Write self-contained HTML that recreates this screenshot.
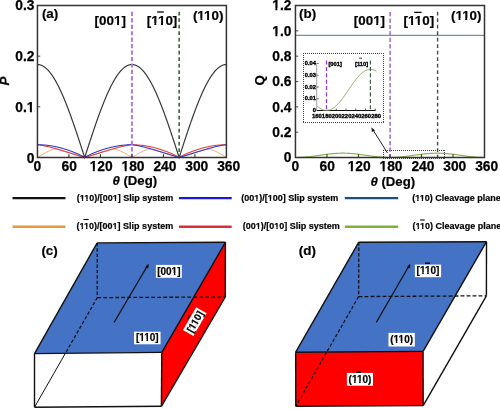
<!DOCTYPE html><html><head><meta charset="utf-8"><style>
html,body{margin:0;padding:0;background:#fff;width:500px;height:409px;overflow:hidden}
svg{display:block}
text{font-family:"Liberation Sans",sans-serif;font-weight:bold;fill:#000}
.tk{font-size:13.8px;stroke:#000;stroke-width:0.25px}
.pl{font-size:13.4px;stroke:#000;stroke-width:0.2px}
.ax{font-size:13.2px;stroke:#000;stroke-width:0.2px}
.lg{font-size:9px;stroke:#000;stroke-width:0.2px}
.bx{font-size:10px;stroke:#000;stroke-width:0.2px}
.it{font-size:5.8px;stroke:#000;stroke-width:0.35px}
</style></head><body><svg width="500" height="409" viewBox="0 0 500 409">
<rect width="500" height="409" fill="#fff"/>
<path d="M37.45,64.53 L37.71,64.53 L37.97,64.54 L38.24,64.56 L38.50,64.58 L38.76,64.62 L39.02,64.65 L39.29,64.70 L39.55,64.75 L39.81,64.81 L40.07,64.88 L40.34,64.95 L40.60,65.04 L40.86,65.12 L41.12,65.22 L41.39,65.32 L41.65,65.43 L41.91,65.55 L42.17,65.67 L42.44,65.80 L42.70,65.94 L42.96,66.08 L43.22,66.23 L43.49,66.39 L43.75,66.56 L44.01,66.73 L44.27,66.91 L44.54,67.10 L44.80,67.29 L45.06,67.49 L45.32,67.69 L45.59,67.91 L45.85,68.13 L46.11,68.36 L46.37,68.59 L46.64,68.83 L46.90,69.08 L47.16,69.33 L47.42,69.59 L47.68,69.86 L47.95,70.13 L48.21,70.41 L48.47,70.70 L48.73,71.00 L49.00,71.30 L49.26,71.60 L49.52,71.92 L49.78,72.24 L50.05,72.56 L50.31,72.90 L50.57,73.24 L50.83,73.58 L51.10,73.94 L51.36,74.29 L51.62,74.66 L51.88,75.03 L52.15,75.41 L52.41,75.79 L52.67,76.18 L52.93,76.58 L53.20,76.98 L53.46,77.39 L53.72,77.81 L53.98,78.23 L54.25,78.65 L54.51,79.09 L54.77,79.53 L55.03,79.97 L55.30,80.42 L55.56,80.88 L55.82,81.34 L56.08,81.81 L56.34,82.28 L56.61,82.76 L56.87,83.25 L57.13,83.74 L57.39,84.24 L57.66,84.74 L57.92,85.25 L58.18,85.76 L58.44,86.28 L58.71,86.80 L58.97,87.33 L59.23,87.87 L59.49,88.41 L59.76,88.95 L60.02,89.50 L60.28,90.06 L60.54,90.62 L60.81,91.19 L61.07,91.76 L61.33,92.33 L61.59,92.92 L61.86,93.50 L62.12,94.09 L62.38,94.69 L62.64,95.29 L62.91,95.89 L63.17,96.50 L63.43,97.12 L63.69,97.74 L63.96,98.36 L64.22,98.99 L64.48,99.62 L64.74,100.26 L65.01,100.90 L65.27,101.55 L65.53,102.20 L65.79,102.85 L66.05,103.51 L66.32,104.17 L66.58,104.84 L66.84,105.51 L67.10,106.18 L67.37,106.86 L67.63,107.55 L67.89,108.23 L68.15,108.92 L68.42,109.62 L68.68,110.31 L68.94,111.01 L69.20,111.72 L69.47,112.43 L69.73,113.14 L69.99,113.85 L70.25,114.57 L70.52,115.29 L70.78,116.02 L71.04,116.74 L71.30,117.47 L71.57,118.21 L71.83,118.94 L72.09,119.68 L72.35,120.43 L72.62,121.17 L72.88,121.92 L73.14,122.67 L73.40,123.43 L73.67,124.18 L73.93,124.94 L74.19,125.70 L74.45,126.46 L74.72,127.23 L74.98,128.00 L75.24,128.77 L75.50,129.54 L75.76,130.32 L76.03,131.09 L76.29,131.87 L76.55,132.65 L76.81,133.44 L77.08,134.22 L77.34,135.01 L77.60,135.80 L77.86,136.59 L78.13,137.38 L78.39,138.17 L78.65,138.96 L78.91,139.76 L79.18,140.56 L79.44,141.36 L79.70,142.15 L79.96,142.96 L80.23,143.76 L80.49,144.56 L80.75,145.36 L81.01,146.17 L81.28,146.98 L81.54,147.78 L81.80,148.59 L82.06,149.40 L82.33,150.21 L82.59,151.01 L82.85,151.82 L83.11,152.63 L83.38,153.44 L83.64,154.26 L83.90,155.07 L84.16,155.88 L84.43,156.69 L84.69,157.50 L84.95,156.69 L85.21,155.88 L85.47,155.07 L85.74,154.26 L86.00,153.44 L86.26,152.63 L86.52,151.82 L86.79,151.01 L87.05,150.21 L87.31,149.40 L87.57,148.59 L87.84,147.78 L88.10,146.98 L88.36,146.17 L88.62,145.36 L88.89,144.56 L89.15,143.76 L89.41,142.96 L89.67,142.15 L89.94,141.36 L90.20,140.56 L90.46,139.76 L90.72,138.96 L90.99,138.17 L91.25,137.38 L91.51,136.59 L91.77,135.80 L92.04,135.01 L92.30,134.22 L92.56,133.44 L92.82,132.65 L93.09,131.87 L93.35,131.09 L93.61,130.32 L93.87,129.54 L94.13,128.77 L94.40,128.00 L94.66,127.23 L94.92,126.46 L95.18,125.70 L95.45,124.94 L95.71,124.18 L95.97,123.43 L96.23,122.67 L96.50,121.92 L96.76,121.17 L97.02,120.43 L97.28,119.68 L97.55,118.94 L97.81,118.21 L98.07,117.47 L98.33,116.74 L98.60,116.02 L98.86,115.29 L99.12,114.57 L99.38,113.85 L99.65,113.14 L99.91,112.43 L100.17,111.72 L100.43,111.01 L100.70,110.31 L100.96,109.62 L101.22,108.92 L101.48,108.23 L101.75,107.55 L102.01,106.86 L102.27,106.18 L102.53,105.51 L102.80,104.84 L103.06,104.17 L103.32,103.51 L103.58,102.85 L103.84,102.20 L104.11,101.55 L104.37,100.90 L104.63,100.26 L104.89,99.62 L105.16,98.99 L105.42,98.36 L105.68,97.74 L105.94,97.12 L106.21,96.50 L106.47,95.89 L106.73,95.29 L106.99,94.69 L107.26,94.09 L107.52,93.50 L107.78,92.92 L108.04,92.33 L108.31,91.76 L108.57,91.19 L108.83,90.62 L109.09,90.06 L109.36,89.50 L109.62,88.95 L109.88,88.41 L110.14,87.87 L110.41,87.33 L110.67,86.80 L110.93,86.28 L111.19,85.76 L111.46,85.25 L111.72,84.74 L111.98,84.24 L112.24,83.74 L112.51,83.25 L112.77,82.76 L113.03,82.28 L113.29,81.81 L113.55,81.34 L113.82,80.88 L114.08,80.42 L114.34,79.97 L114.60,79.53 L114.87,79.09 L115.13,78.65 L115.39,78.23 L115.65,77.81 L115.92,77.39 L116.18,76.98 L116.44,76.58 L116.70,76.18 L116.97,75.79 L117.23,75.41 L117.49,75.03 L117.75,74.66 L118.02,74.29 L118.28,73.94 L118.54,73.58 L118.80,73.24 L119.07,72.90 L119.33,72.56 L119.59,72.24 L119.85,71.92 L120.12,71.60 L120.38,71.30 L120.64,71.00 L120.90,70.70 L121.17,70.41 L121.43,70.13 L121.69,69.86 L121.95,69.59 L122.22,69.33 L122.48,69.08 L122.74,68.83 L123.00,68.59 L123.26,68.36 L123.53,68.13 L123.79,67.91 L124.05,67.69 L124.31,67.49 L124.58,67.29 L124.84,67.10 L125.10,66.91 L125.36,66.73 L125.63,66.56 L125.89,66.39 L126.15,66.23 L126.41,66.08 L126.68,65.94 L126.94,65.80 L127.20,65.67 L127.46,65.55 L127.73,65.43 L127.99,65.32 L128.25,65.22 L128.51,65.12 L128.78,65.04 L129.04,64.95 L129.30,64.88 L129.56,64.81 L129.83,64.75 L130.09,64.70 L130.35,64.65 L130.61,64.62 L130.88,64.58 L131.14,64.56 L131.40,64.54 L131.66,64.53 L131.93,64.53 L132.19,64.53 L132.45,64.54 L132.71,64.56 L132.97,64.58 L133.24,64.62 L133.50,64.65 L133.76,64.70 L134.02,64.75 L134.29,64.81 L134.55,64.88 L134.81,64.95 L135.07,65.04 L135.34,65.12 L135.60,65.22 L135.86,65.32 L136.12,65.43 L136.39,65.55 L136.65,65.67 L136.91,65.80 L137.17,65.94 L137.44,66.08 L137.70,66.23 L137.96,66.39 L138.22,66.56 L138.49,66.73 L138.75,66.91 L139.01,67.10 L139.27,67.29 L139.54,67.49 L139.80,67.69 L140.06,67.91 L140.32,68.13 L140.59,68.36 L140.85,68.59 L141.11,68.83 L141.37,69.08 L141.63,69.33 L141.90,69.59 L142.16,69.86 L142.42,70.13 L142.68,70.41 L142.95,70.70 L143.21,71.00 L143.47,71.30 L143.73,71.60 L144.00,71.92 L144.26,72.24 L144.52,72.56 L144.78,72.90 L145.05,73.24 L145.31,73.58 L145.57,73.94 L145.83,74.29 L146.10,74.66 L146.36,75.03 L146.62,75.41 L146.88,75.79 L147.15,76.18 L147.41,76.58 L147.67,76.98 L147.93,77.39 L148.20,77.81 L148.46,78.23 L148.72,78.65 L148.98,79.09 L149.25,79.53 L149.51,79.97 L149.77,80.42 L150.03,80.88 L150.30,81.34 L150.56,81.81 L150.82,82.28 L151.08,82.76 L151.34,83.25 L151.61,83.74 L151.87,84.24 L152.13,84.74 L152.39,85.25 L152.66,85.76 L152.92,86.28 L153.18,86.80 L153.44,87.33 L153.71,87.87 L153.97,88.41 L154.23,88.95 L154.49,89.50 L154.76,90.06 L155.02,90.62 L155.28,91.19 L155.54,91.76 L155.81,92.33 L156.07,92.92 L156.33,93.50 L156.59,94.09 L156.86,94.69 L157.12,95.29 L157.38,95.89 L157.64,96.50 L157.91,97.12 L158.17,97.74 L158.43,98.36 L158.69,98.99 L158.96,99.62 L159.22,100.26 L159.48,100.90 L159.74,101.55 L160.01,102.20 L160.27,102.85 L160.53,103.51 L160.79,104.17 L161.05,104.84 L161.32,105.51 L161.58,106.18 L161.84,106.86 L162.10,107.55 L162.37,108.23 L162.63,108.92 L162.89,109.62 L163.15,110.31 L163.42,111.01 L163.68,111.72 L163.94,112.43 L164.20,113.14 L164.47,113.85 L164.73,114.57 L164.99,115.29 L165.25,116.02 L165.52,116.74 L165.78,117.47 L166.04,118.21 L166.30,118.94 L166.57,119.68 L166.83,120.43 L167.09,121.17 L167.35,121.92 L167.62,122.67 L167.88,123.43 L168.14,124.18 L168.40,124.94 L168.67,125.70 L168.93,126.46 L169.19,127.23 L169.45,128.00 L169.71,128.77 L169.98,129.54 L170.24,130.32 L170.50,131.09 L170.76,131.87 L171.03,132.65 L171.29,133.44 L171.55,134.22 L171.81,135.01 L172.08,135.80 L172.34,136.59 L172.60,137.38 L172.86,138.17 L173.13,138.96 L173.39,139.76 L173.65,140.56 L173.91,141.36 L174.18,142.15 L174.44,142.96 L174.70,143.76 L174.96,144.56 L175.23,145.36 L175.49,146.17 L175.75,146.98 L176.01,147.78 L176.28,148.59 L176.54,149.40 L176.80,150.21 L177.06,151.01 L177.33,151.82 L177.59,152.63 L177.85,153.44 L178.11,154.26 L178.38,155.07 L178.64,155.88 L178.90,156.69 L179.16,157.50 L179.42,156.69 L179.69,155.88 L179.95,155.07 L180.21,154.26 L180.47,153.44 L180.74,152.63 L181.00,151.82 L181.26,151.01 L181.52,150.21 L181.79,149.40 L182.05,148.59 L182.31,147.78 L182.57,146.98 L182.84,146.17 L183.10,145.36 L183.36,144.56 L183.62,143.76 L183.89,142.96 L184.15,142.15 L184.41,141.36 L184.67,140.56 L184.94,139.76 L185.20,138.96 L185.46,138.17 L185.72,137.38 L185.99,136.59 L186.25,135.80 L186.51,135.01 L186.77,134.22 L187.04,133.44 L187.30,132.65 L187.56,131.87 L187.82,131.09 L188.09,130.32 L188.35,129.54 L188.61,128.77 L188.87,128.00 L189.13,127.23 L189.40,126.46 L189.66,125.70 L189.92,124.94 L190.18,124.18 L190.45,123.43 L190.71,122.67 L190.97,121.92 L191.23,121.17 L191.50,120.43 L191.76,119.68 L192.02,118.94 L192.28,118.21 L192.55,117.47 L192.81,116.74 L193.07,116.02 L193.33,115.29 L193.60,114.57 L193.86,113.85 L194.12,113.14 L194.38,112.43 L194.65,111.72 L194.91,111.01 L195.17,110.31 L195.43,109.62 L195.70,108.92 L195.96,108.23 L196.22,107.55 L196.48,106.86 L196.75,106.18 L197.01,105.51 L197.27,104.84 L197.53,104.17 L197.80,103.51 L198.06,102.85 L198.32,102.20 L198.58,101.55 L198.84,100.90 L199.11,100.26 L199.37,99.62 L199.63,98.99 L199.89,98.36 L200.16,97.74 L200.42,97.12 L200.68,96.50 L200.94,95.89 L201.21,95.29 L201.47,94.69 L201.73,94.09 L201.99,93.50 L202.26,92.92 L202.52,92.33 L202.78,91.76 L203.04,91.19 L203.31,90.62 L203.57,90.06 L203.83,89.50 L204.09,88.95 L204.36,88.41 L204.62,87.87 L204.88,87.33 L205.14,86.80 L205.41,86.28 L205.67,85.76 L205.93,85.25 L206.19,84.74 L206.46,84.24 L206.72,83.74 L206.98,83.25 L207.24,82.76 L207.50,82.28 L207.77,81.81 L208.03,81.34 L208.29,80.88 L208.55,80.42 L208.82,79.97 L209.08,79.53 L209.34,79.09 L209.60,78.65 L209.87,78.23 L210.13,77.81 L210.39,77.39 L210.65,76.98 L210.92,76.58 L211.18,76.18 L211.44,75.79 L211.70,75.41 L211.97,75.03 L212.23,74.66 L212.49,74.29 L212.75,73.94 L213.02,73.58 L213.28,73.24 L213.54,72.90 L213.80,72.56 L214.07,72.24 L214.33,71.92 L214.59,71.60 L214.85,71.30 L215.12,71.00 L215.38,70.70 L215.64,70.41 L215.90,70.13 L216.17,69.86 L216.43,69.59 L216.69,69.33 L216.95,69.08 L217.21,68.83 L217.48,68.59 L217.74,68.36 L218.00,68.13 L218.26,67.91 L218.53,67.69 L218.79,67.49 L219.05,67.29 L219.31,67.10 L219.58,66.91 L219.84,66.73 L220.10,66.56 L220.36,66.39 L220.63,66.23 L220.89,66.08 L221.15,65.94 L221.41,65.80 L221.68,65.67 L221.94,65.55 L222.20,65.43 L222.46,65.32 L222.73,65.22 L222.99,65.12 L223.25,65.04 L223.51,64.95 L223.78,64.88 L224.04,64.81 L224.30,64.75 L224.56,64.70 L224.83,64.65 L225.09,64.62 L225.35,64.58 L225.61,64.56 L225.88,64.54 L226.14,64.53 L226.40,64.53" fill="none" stroke="#383838" stroke-width="1.2"/>
<path d="M37.45,157.50 L37.71,157.34 L37.97,157.17 L38.24,157.01 L38.50,156.85 L38.76,156.68 L39.02,156.52 L39.29,156.36 L39.55,156.20 L39.81,156.03 L40.07,155.87 L40.34,155.71 L40.60,155.55 L40.86,155.39 L41.12,155.23 L41.39,155.07 L41.65,154.92 L41.91,154.76 L42.17,154.60 L42.44,154.45 L42.70,154.29 L42.96,154.14 L43.22,153.99 L43.49,153.84 L43.75,153.69 L44.01,153.54 L44.27,153.39 L44.54,153.24 L44.80,153.10 L45.06,152.96 L45.32,152.81 L45.59,152.67 L45.85,152.53 L46.11,152.39 L46.37,152.26 L46.64,152.12 L46.90,151.99 L47.16,151.86 L47.42,151.73 L47.68,151.60 L47.95,151.47 L48.21,151.35 L48.47,151.23 L48.73,151.11 L49.00,150.99 L49.26,150.87 L49.52,150.76 L49.78,150.64 L50.05,150.53 L50.31,150.43 L50.57,150.32 L50.83,150.22 L51.10,150.11 L51.36,150.01 L51.62,149.92 L51.88,149.82 L52.15,149.73 L52.41,149.64 L52.67,149.55 L52.93,149.47 L53.20,149.38 L53.46,149.30 L53.72,149.22 L53.98,149.15 L54.25,149.08 L54.51,149.00 L54.77,148.94 L55.03,148.87 L55.30,148.81 L55.56,148.75 L55.82,148.72 L56.08,148.80 L56.34,148.87 L56.61,148.95 L56.87,149.02 L57.13,149.10 L57.39,149.17 L57.66,149.25 L57.92,149.33 L58.18,149.40 L58.44,149.48 L58.71,149.56 L58.97,149.63 L59.23,149.71 L59.49,149.79 L59.76,149.87 L60.02,149.95 L60.28,150.02 L60.54,150.10 L60.81,150.18 L61.07,150.26 L61.33,150.34 L61.59,150.42 L61.86,150.50 L62.12,150.58 L62.38,150.65 L62.64,150.73 L62.91,150.81 L63.17,150.89 L63.43,150.97 L63.69,151.05 L63.96,151.13 L64.22,151.21 L64.48,151.29 L64.74,151.37 L65.01,151.45 L65.27,151.53 L65.53,151.61 L65.79,151.70 L66.05,151.78 L66.32,151.86 L66.58,151.94 L66.84,152.02 L67.10,152.10 L67.37,152.18 L67.63,152.26 L67.89,152.34 L68.15,152.42 L68.42,152.50 L68.68,152.58 L68.94,152.66 L69.20,152.74 L69.47,152.83 L69.73,152.91 L69.99,152.99 L70.25,153.07 L70.52,153.15 L70.78,153.23 L71.04,153.31 L71.30,153.39 L71.57,153.47 L71.83,153.55 L72.09,153.64 L72.35,153.72 L72.62,153.80 L72.88,153.88 L73.14,153.96 L73.40,154.04 L73.67,154.12 L73.93,154.20 L74.19,154.28 L74.45,154.36 L74.72,154.44 L74.98,154.52 L75.24,154.61 L75.50,154.69 L75.76,154.77 L76.03,154.85 L76.29,154.93 L76.55,155.01 L76.81,155.09 L77.08,155.17 L77.34,155.25 L77.60,155.33 L77.86,155.41 L78.13,155.49 L78.39,155.57 L78.65,155.65 L78.91,155.73 L79.18,155.81 L79.44,155.89 L79.70,155.97 L79.96,156.06 L80.23,156.14 L80.49,156.22 L80.75,156.30 L81.01,156.38 L81.28,156.46 L81.54,156.54 L81.80,156.62 L82.06,156.70 L82.33,156.78 L82.59,156.86 L82.85,156.94 L83.11,157.02 L83.38,157.10 L83.64,157.18 L83.90,157.26 L84.16,157.34 L84.43,157.42 L84.69,157.50 L84.95,157.42 L85.21,157.34 L85.47,157.26 L85.74,157.18 L86.00,157.10 L86.26,157.02 L86.52,156.94 L86.79,156.86 L87.05,156.78 L87.31,156.70 L87.57,156.62 L87.84,156.54 L88.10,156.46 L88.36,156.38 L88.62,156.30 L88.89,156.22 L89.15,156.14 L89.41,156.06 L89.67,155.97 L89.94,155.89 L90.20,155.81 L90.46,155.73 L90.72,155.65 L90.99,155.57 L91.25,155.49 L91.51,155.41 L91.77,155.33 L92.04,155.25 L92.30,155.17 L92.56,155.09 L92.82,155.01 L93.09,154.93 L93.35,154.85 L93.61,154.77 L93.87,154.69 L94.13,154.61 L94.40,154.52 L94.66,154.44 L94.92,154.36 L95.18,154.28 L95.45,154.20 L95.71,154.12 L95.97,154.04 L96.23,153.96 L96.50,153.88 L96.76,153.80 L97.02,153.72 L97.28,153.64 L97.55,153.55 L97.81,153.47 L98.07,153.39 L98.33,153.31 L98.60,153.23 L98.86,153.15 L99.12,153.07 L99.38,152.99 L99.65,152.91 L99.91,152.83 L100.17,152.74 L100.43,152.66 L100.70,152.58 L100.96,152.50 L101.22,152.42 L101.48,152.34 L101.75,152.26 L102.01,152.18 L102.27,152.10 L102.53,152.02 L102.80,151.94 L103.06,151.86 L103.32,151.78 L103.58,151.70 L103.84,151.61 L104.11,151.53 L104.37,151.45 L104.63,151.37 L104.89,151.29 L105.16,151.21 L105.42,151.13 L105.68,151.05 L105.94,150.97 L106.21,150.89 L106.47,150.81 L106.73,150.73 L106.99,150.65 L107.26,150.58 L107.52,150.50 L107.78,150.42 L108.04,150.34 L108.31,150.26 L108.57,150.18 L108.83,150.10 L109.09,150.02 L109.36,149.95 L109.62,149.87 L109.88,149.79 L110.14,149.71 L110.41,149.63 L110.67,149.56 L110.93,149.48 L111.19,149.40 L111.46,149.33 L111.72,149.25 L111.98,149.17 L112.24,149.10 L112.51,149.02 L112.77,148.95 L113.03,148.87 L113.29,148.80 L113.55,148.72 L113.82,148.75 L114.08,148.81 L114.34,148.87 L114.60,148.94 L114.87,149.00 L115.13,149.08 L115.39,149.15 L115.65,149.22 L115.92,149.30 L116.18,149.38 L116.44,149.47 L116.70,149.55 L116.97,149.64 L117.23,149.73 L117.49,149.82 L117.75,149.92 L118.02,150.01 L118.28,150.11 L118.54,150.22 L118.80,150.32 L119.07,150.43 L119.33,150.53 L119.59,150.64 L119.85,150.76 L120.12,150.87 L120.38,150.99 L120.64,151.11 L120.90,151.23 L121.17,151.35 L121.43,151.47 L121.69,151.60 L121.95,151.73 L122.22,151.86 L122.48,151.99 L122.74,152.12 L123.00,152.26 L123.26,152.39 L123.53,152.53 L123.79,152.67 L124.05,152.81 L124.31,152.96 L124.58,153.10 L124.84,153.24 L125.10,153.39 L125.36,153.54 L125.63,153.69 L125.89,153.84 L126.15,153.99 L126.41,154.14 L126.68,154.29 L126.94,154.45 L127.20,154.60 L127.46,154.76 L127.73,154.92 L127.99,155.07 L128.25,155.23 L128.51,155.39 L128.78,155.55 L129.04,155.71 L129.30,155.87 L129.56,156.03 L129.83,156.20 L130.09,156.36 L130.35,156.52 L130.61,156.68 L130.88,156.85 L131.14,157.01 L131.40,157.17 L131.66,157.34 L131.93,157.50 L132.19,157.34 L132.45,157.17 L132.71,157.01 L132.97,156.85 L133.24,156.68 L133.50,156.52 L133.76,156.36 L134.02,156.20 L134.29,156.03 L134.55,155.87 L134.81,155.71 L135.07,155.55 L135.34,155.39 L135.60,155.23 L135.86,155.07 L136.12,154.92 L136.39,154.76 L136.65,154.60 L136.91,154.45 L137.17,154.29 L137.44,154.14 L137.70,153.99 L137.96,153.84 L138.22,153.69 L138.49,153.54 L138.75,153.39 L139.01,153.24 L139.27,153.10 L139.54,152.96 L139.80,152.81 L140.06,152.67 L140.32,152.53 L140.59,152.39 L140.85,152.26 L141.11,152.12 L141.37,151.99 L141.63,151.86 L141.90,151.73 L142.16,151.60 L142.42,151.47 L142.68,151.35 L142.95,151.23 L143.21,151.11 L143.47,150.99 L143.73,150.87 L144.00,150.76 L144.26,150.64 L144.52,150.53 L144.78,150.43 L145.05,150.32 L145.31,150.22 L145.57,150.11 L145.83,150.01 L146.10,149.92 L146.36,149.82 L146.62,149.73 L146.88,149.64 L147.15,149.55 L147.41,149.47 L147.67,149.38 L147.93,149.30 L148.20,149.22 L148.46,149.15 L148.72,149.08 L148.98,149.00 L149.25,148.94 L149.51,148.87 L149.77,148.81 L150.03,148.75 L150.30,148.72 L150.56,148.80 L150.82,148.87 L151.08,148.95 L151.34,149.02 L151.61,149.10 L151.87,149.17 L152.13,149.25 L152.39,149.33 L152.66,149.40 L152.92,149.48 L153.18,149.56 L153.44,149.63 L153.71,149.71 L153.97,149.79 L154.23,149.87 L154.49,149.95 L154.76,150.02 L155.02,150.10 L155.28,150.18 L155.54,150.26 L155.81,150.34 L156.07,150.42 L156.33,150.50 L156.59,150.58 L156.86,150.65 L157.12,150.73 L157.38,150.81 L157.64,150.89 L157.91,150.97 L158.17,151.05 L158.43,151.13 L158.69,151.21 L158.96,151.29 L159.22,151.37 L159.48,151.45 L159.74,151.53 L160.01,151.61 L160.27,151.70 L160.53,151.78 L160.79,151.86 L161.05,151.94 L161.32,152.02 L161.58,152.10 L161.84,152.18 L162.10,152.26 L162.37,152.34 L162.63,152.42 L162.89,152.50 L163.15,152.58 L163.42,152.66 L163.68,152.74 L163.94,152.83 L164.20,152.91 L164.47,152.99 L164.73,153.07 L164.99,153.15 L165.25,153.23 L165.52,153.31 L165.78,153.39 L166.04,153.47 L166.30,153.55 L166.57,153.64 L166.83,153.72 L167.09,153.80 L167.35,153.88 L167.62,153.96 L167.88,154.04 L168.14,154.12 L168.40,154.20 L168.67,154.28 L168.93,154.36 L169.19,154.44 L169.45,154.52 L169.71,154.61 L169.98,154.69 L170.24,154.77 L170.50,154.85 L170.76,154.93 L171.03,155.01 L171.29,155.09 L171.55,155.17 L171.81,155.25 L172.08,155.33 L172.34,155.41 L172.60,155.49 L172.86,155.57 L173.13,155.65 L173.39,155.73 L173.65,155.81 L173.91,155.89 L174.18,155.97 L174.44,156.06 L174.70,156.14 L174.96,156.22 L175.23,156.30 L175.49,156.38 L175.75,156.46 L176.01,156.54 L176.28,156.62 L176.54,156.70 L176.80,156.78 L177.06,156.86 L177.33,156.94 L177.59,157.02 L177.85,157.10 L178.11,157.18 L178.38,157.26 L178.64,157.34 L178.90,157.42 L179.16,157.50 L179.42,157.42 L179.69,157.34 L179.95,157.26 L180.21,157.18 L180.47,157.10 L180.74,157.02 L181.00,156.94 L181.26,156.86 L181.52,156.78 L181.79,156.70 L182.05,156.62 L182.31,156.54 L182.57,156.46 L182.84,156.38 L183.10,156.30 L183.36,156.22 L183.62,156.14 L183.89,156.06 L184.15,155.97 L184.41,155.89 L184.67,155.81 L184.94,155.73 L185.20,155.65 L185.46,155.57 L185.72,155.49 L185.99,155.41 L186.25,155.33 L186.51,155.25 L186.77,155.17 L187.04,155.09 L187.30,155.01 L187.56,154.93 L187.82,154.85 L188.09,154.77 L188.35,154.69 L188.61,154.61 L188.87,154.52 L189.13,154.44 L189.40,154.36 L189.66,154.28 L189.92,154.20 L190.18,154.12 L190.45,154.04 L190.71,153.96 L190.97,153.88 L191.23,153.80 L191.50,153.72 L191.76,153.64 L192.02,153.55 L192.28,153.47 L192.55,153.39 L192.81,153.31 L193.07,153.23 L193.33,153.15 L193.60,153.07 L193.86,152.99 L194.12,152.91 L194.38,152.83 L194.65,152.74 L194.91,152.66 L195.17,152.58 L195.43,152.50 L195.70,152.42 L195.96,152.34 L196.22,152.26 L196.48,152.18 L196.75,152.10 L197.01,152.02 L197.27,151.94 L197.53,151.86 L197.80,151.78 L198.06,151.70 L198.32,151.61 L198.58,151.53 L198.84,151.45 L199.11,151.37 L199.37,151.29 L199.63,151.21 L199.89,151.13 L200.16,151.05 L200.42,150.97 L200.68,150.89 L200.94,150.81 L201.21,150.73 L201.47,150.65 L201.73,150.58 L201.99,150.50 L202.26,150.42 L202.52,150.34 L202.78,150.26 L203.04,150.18 L203.31,150.10 L203.57,150.02 L203.83,149.95 L204.09,149.87 L204.36,149.79 L204.62,149.71 L204.88,149.63 L205.14,149.56 L205.41,149.48 L205.67,149.40 L205.93,149.33 L206.19,149.25 L206.46,149.17 L206.72,149.10 L206.98,149.02 L207.24,148.95 L207.50,148.87 L207.77,148.80 L208.03,148.72 L208.29,148.75 L208.55,148.81 L208.82,148.87 L209.08,148.94 L209.34,149.00 L209.60,149.08 L209.87,149.15 L210.13,149.22 L210.39,149.30 L210.65,149.38 L210.92,149.47 L211.18,149.55 L211.44,149.64 L211.70,149.73 L211.97,149.82 L212.23,149.92 L212.49,150.01 L212.75,150.11 L213.02,150.22 L213.28,150.32 L213.54,150.43 L213.80,150.53 L214.07,150.64 L214.33,150.76 L214.59,150.87 L214.85,150.99 L215.12,151.11 L215.38,151.23 L215.64,151.35 L215.90,151.47 L216.17,151.60 L216.43,151.73 L216.69,151.86 L216.95,151.99 L217.21,152.12 L217.48,152.26 L217.74,152.39 L218.00,152.53 L218.26,152.67 L218.53,152.81 L218.79,152.96 L219.05,153.10 L219.31,153.24 L219.58,153.39 L219.84,153.54 L220.10,153.69 L220.36,153.84 L220.63,153.99 L220.89,154.14 L221.15,154.29 L221.41,154.45 L221.68,154.60 L221.94,154.76 L222.20,154.92 L222.46,155.07 L222.73,155.23 L222.99,155.39 L223.25,155.55 L223.51,155.71 L223.78,155.87 L224.04,156.03 L224.30,156.20 L224.56,156.36 L224.83,156.52 L225.09,156.68 L225.35,156.85 L225.61,157.01 L225.88,157.17 L226.14,157.34 L226.40,157.50" fill="none" stroke="#e8a060" stroke-width="1"/>
<path d="M37.45,144.73 L37.71,144.76 L37.97,144.80 L38.24,144.83 L38.50,144.86 L38.76,144.90 L39.02,144.94 L39.29,144.97 L39.55,145.01 L39.81,145.05 L40.07,145.09 L40.34,145.13 L40.60,145.17 L40.86,145.22 L41.12,145.26 L41.39,145.30 L41.65,145.35 L41.91,145.39 L42.17,145.44 L42.44,145.49 L42.70,145.54 L42.96,145.59 L43.22,145.64 L43.49,145.69 L43.75,145.74 L44.01,145.79 L44.27,145.84 L44.54,145.90 L44.80,145.95 L45.06,146.01 L45.32,146.06 L45.59,146.12 L45.85,146.17 L46.11,146.23 L46.37,146.29 L46.64,146.35 L46.90,146.41 L47.16,146.47 L47.42,146.53 L47.68,146.59 L47.95,146.65 L48.21,146.71 L48.47,146.78 L48.73,146.84 L49.00,146.90 L49.26,146.97 L49.52,147.03 L49.78,147.10 L50.05,147.16 L50.31,147.23 L50.57,147.30 L50.83,147.36 L51.10,147.43 L51.36,147.50 L51.62,147.57 L51.88,147.64 L52.15,147.71 L52.41,147.78 L52.67,147.85 L52.93,147.92 L53.20,147.99 L53.46,148.06 L53.72,148.13 L53.98,148.21 L54.25,148.28 L54.51,148.35 L54.77,148.42 L55.03,148.50 L55.30,148.57 L55.56,148.65 L55.82,148.72 L56.08,148.80 L56.34,148.87 L56.61,148.95 L56.87,149.02 L57.13,149.10 L57.39,149.17 L57.66,149.25 L57.92,149.33 L58.18,149.40 L58.44,149.48 L58.71,149.56 L58.97,149.63 L59.23,149.71 L59.49,149.79 L59.76,149.87 L60.02,149.95 L60.28,150.02 L60.54,150.10 L60.81,150.18 L61.07,150.26 L61.33,150.34 L61.59,150.42 L61.86,150.50 L62.12,150.58 L62.38,150.65 L62.64,150.73 L62.91,150.81 L63.17,150.89 L63.43,150.97 L63.69,151.05 L63.96,151.13 L64.22,151.21 L64.48,151.29 L64.74,151.37 L65.01,151.45 L65.27,151.53 L65.53,151.61 L65.79,151.70 L66.05,151.78 L66.32,151.86 L66.58,151.94 L66.84,152.02 L67.10,152.10 L67.37,152.18 L67.63,152.26 L67.89,152.34 L68.15,152.42 L68.42,152.50 L68.68,152.58 L68.94,152.66 L69.20,152.74 L69.47,152.83 L69.73,152.91 L69.99,152.99 L70.25,153.07 L70.52,153.15 L70.78,153.23 L71.04,153.31 L71.30,153.39 L71.57,153.47 L71.83,153.55 L72.09,153.64 L72.35,153.72 L72.62,153.80 L72.88,153.88 L73.14,153.96 L73.40,154.04 L73.67,154.12 L73.93,154.20 L74.19,154.28 L74.45,154.36 L74.72,154.44 L74.98,154.52 L75.24,154.61 L75.50,154.69 L75.76,154.77 L76.03,154.85 L76.29,154.93 L76.55,155.01 L76.81,155.09 L77.08,155.17 L77.34,155.25 L77.60,155.33 L77.86,155.41 L78.13,155.49 L78.39,155.57 L78.65,155.65 L78.91,155.73 L79.18,155.81 L79.44,155.89 L79.70,155.97 L79.96,156.06 L80.23,156.14 L80.49,156.22 L80.75,156.30 L81.01,156.38 L81.28,156.46 L81.54,156.54 L81.80,156.62 L82.06,156.70 L82.33,156.78 L82.59,156.86 L82.85,156.94 L83.11,157.02 L83.38,157.10 L83.64,157.18 L83.90,157.26 L84.16,157.34 L84.43,157.42 L84.69,157.50 L84.95,157.42 L85.21,157.34 L85.47,157.26 L85.74,157.18 L86.00,157.10 L86.26,157.02 L86.52,156.94 L86.79,156.86 L87.05,156.78 L87.31,156.70 L87.57,156.62 L87.84,156.54 L88.10,156.46 L88.36,156.38 L88.62,156.30 L88.89,156.22 L89.15,156.14 L89.41,156.06 L89.67,155.97 L89.94,155.89 L90.20,155.81 L90.46,155.73 L90.72,155.65 L90.99,155.57 L91.25,155.49 L91.51,155.41 L91.77,155.33 L92.04,155.25 L92.30,155.17 L92.56,155.09 L92.82,155.01 L93.09,154.93 L93.35,154.85 L93.61,154.77 L93.87,154.69 L94.13,154.61 L94.40,154.52 L94.66,154.44 L94.92,154.36 L95.18,154.28 L95.45,154.20 L95.71,154.12 L95.97,154.04 L96.23,153.96 L96.50,153.88 L96.76,153.80 L97.02,153.72 L97.28,153.64 L97.55,153.55 L97.81,153.47 L98.07,153.39 L98.33,153.31 L98.60,153.23 L98.86,153.15 L99.12,153.07 L99.38,152.99 L99.65,152.91 L99.91,152.83 L100.17,152.74 L100.43,152.66 L100.70,152.58 L100.96,152.50 L101.22,152.42 L101.48,152.34 L101.75,152.26 L102.01,152.18 L102.27,152.10 L102.53,152.02 L102.80,151.94 L103.06,151.86 L103.32,151.78 L103.58,151.70 L103.84,151.61 L104.11,151.53 L104.37,151.45 L104.63,151.37 L104.89,151.29 L105.16,151.21 L105.42,151.13 L105.68,151.05 L105.94,150.97 L106.21,150.89 L106.47,150.81 L106.73,150.73 L106.99,150.65 L107.26,150.58 L107.52,150.50 L107.78,150.42 L108.04,150.34 L108.31,150.26 L108.57,150.18 L108.83,150.10 L109.09,150.02 L109.36,149.95 L109.62,149.87 L109.88,149.79 L110.14,149.71 L110.41,149.63 L110.67,149.56 L110.93,149.48 L111.19,149.40 L111.46,149.33 L111.72,149.25 L111.98,149.17 L112.24,149.10 L112.51,149.02 L112.77,148.95 L113.03,148.87 L113.29,148.80 L113.55,148.72 L113.82,148.65 L114.08,148.57 L114.34,148.50 L114.60,148.42 L114.87,148.35 L115.13,148.28 L115.39,148.21 L115.65,148.13 L115.92,148.06 L116.18,147.99 L116.44,147.92 L116.70,147.85 L116.97,147.78 L117.23,147.71 L117.49,147.64 L117.75,147.57 L118.02,147.50 L118.28,147.43 L118.54,147.36 L118.80,147.30 L119.07,147.23 L119.33,147.16 L119.59,147.10 L119.85,147.03 L120.12,146.97 L120.38,146.90 L120.64,146.84 L120.90,146.78 L121.17,146.71 L121.43,146.65 L121.69,146.59 L121.95,146.53 L122.22,146.47 L122.48,146.41 L122.74,146.35 L123.00,146.29 L123.26,146.23 L123.53,146.17 L123.79,146.12 L124.05,146.06 L124.31,146.01 L124.58,145.95 L124.84,145.90 L125.10,145.84 L125.36,145.79 L125.63,145.74 L125.89,145.69 L126.15,145.64 L126.41,145.59 L126.68,145.54 L126.94,145.49 L127.20,145.44 L127.46,145.39 L127.73,145.35 L127.99,145.30 L128.25,145.26 L128.51,145.22 L128.78,145.17 L129.04,145.13 L129.30,145.09 L129.56,145.05 L129.83,145.01 L130.09,144.97 L130.35,144.94 L130.61,144.90 L130.88,144.86 L131.14,144.83 L131.40,144.80 L131.66,144.76 L131.93,144.73 L132.19,144.73 L132.45,144.73 L132.71,144.74 L132.97,144.74 L133.24,144.74 L133.50,144.75 L133.76,144.75 L134.02,144.76 L134.29,144.77 L134.55,144.77 L134.81,144.78 L135.07,144.79 L135.34,144.80 L135.60,144.81 L135.86,144.82 L136.12,144.84 L136.39,144.85 L136.65,144.87 L136.91,144.88 L137.17,144.90 L137.44,144.91 L137.70,144.93 L137.96,144.95 L138.22,144.97 L138.49,144.99 L138.75,145.01 L139.01,145.03 L139.27,145.06 L139.54,145.08 L139.80,145.10 L140.06,145.13 L140.32,145.15 L140.59,145.18 L140.85,145.21 L141.11,145.24 L141.37,145.27 L141.63,145.30 L141.90,145.33 L142.16,145.36 L142.42,145.39 L142.68,145.42 L142.95,145.46 L143.21,145.49 L143.47,145.53 L143.73,145.56 L144.00,145.60 L144.26,145.64 L144.52,145.68 L144.78,145.72 L145.05,145.76 L145.31,145.80 L145.57,145.84 L145.83,145.88 L146.10,145.92 L146.36,145.97 L146.62,146.01 L146.88,146.06 L147.15,146.11 L147.41,146.15 L147.67,146.20 L147.93,146.25 L148.20,146.30 L148.46,146.35 L148.72,146.40 L148.98,146.45 L149.25,146.51 L149.51,146.56 L149.77,146.61 L150.03,146.67 L150.30,146.72 L150.56,146.78 L150.82,146.84 L151.08,146.89 L151.34,146.95 L151.61,147.01 L151.87,147.07 L152.13,147.13 L152.39,147.19 L152.66,147.26 L152.92,147.32 L153.18,147.38 L153.44,147.45 L153.71,147.51 L153.97,147.58 L154.23,147.65 L154.49,147.71 L154.76,147.78 L155.02,147.85 L155.28,147.92 L155.54,147.99 L155.81,148.06 L156.07,148.13 L156.33,148.20 L156.59,148.28 L156.86,148.35 L157.12,148.43 L157.38,148.50 L157.64,148.58 L157.91,148.65 L158.17,148.73 L158.43,148.81 L158.69,148.89 L158.96,148.97 L159.22,149.05 L159.48,149.13 L159.74,149.21 L160.01,149.29 L160.27,149.37 L160.53,149.46 L160.79,149.54 L161.05,149.62 L161.32,149.71 L161.58,149.80 L161.84,149.88 L162.10,149.97 L162.37,150.06 L162.63,150.15 L162.89,150.24 L163.15,150.33 L163.42,150.42 L163.68,150.51 L163.94,150.60 L164.20,150.69 L164.47,150.79 L164.73,150.88 L164.99,150.97 L165.25,151.07 L165.52,151.17 L165.78,151.26 L166.04,151.36 L166.30,151.46 L166.57,151.56 L166.83,151.66 L167.09,151.76 L167.35,151.86 L167.62,151.96 L167.88,152.06 L168.14,152.16 L168.40,152.27 L168.67,152.37 L168.93,152.48 L169.19,152.58 L169.45,152.69 L169.71,152.79 L169.98,152.90 L170.24,153.01 L170.50,153.12 L170.76,153.23 L171.03,153.34 L171.29,153.45 L171.55,153.57 L171.81,153.68 L172.08,153.79 L172.34,153.91 L172.60,154.02 L172.86,154.14 L173.13,154.26 L173.39,154.38 L173.65,154.50 L173.91,154.62 L174.18,154.74 L174.44,154.86 L174.70,154.99 L174.96,155.11 L175.23,155.24 L175.49,155.37 L175.75,155.50 L176.01,155.63 L176.28,155.76 L176.54,155.90 L176.80,156.03 L177.06,156.17 L177.33,156.31 L177.59,156.46 L177.85,156.61 L178.11,156.76 L178.38,156.92 L178.64,157.09 L178.90,157.27 L179.16,157.50 L179.42,157.27 L179.69,157.09 L179.95,156.92 L180.21,156.76 L180.47,156.61 L180.74,156.46 L181.00,156.31 L181.26,156.17 L181.52,156.03 L181.79,155.90 L182.05,155.76 L182.31,155.63 L182.57,155.50 L182.84,155.37 L183.10,155.24 L183.36,155.11 L183.62,154.99 L183.89,154.86 L184.15,154.74 L184.41,154.62 L184.67,154.50 L184.94,154.38 L185.20,154.26 L185.46,154.14 L185.72,154.02 L185.99,153.91 L186.25,153.79 L186.51,153.68 L186.77,153.57 L187.04,153.45 L187.30,153.34 L187.56,153.23 L187.82,153.12 L188.09,153.01 L188.35,152.90 L188.61,152.79 L188.87,152.69 L189.13,152.58 L189.40,152.48 L189.66,152.37 L189.92,152.27 L190.18,152.16 L190.45,152.06 L190.71,151.96 L190.97,151.86 L191.23,151.76 L191.50,151.66 L191.76,151.56 L192.02,151.46 L192.28,151.36 L192.55,151.26 L192.81,151.17 L193.07,151.07 L193.33,150.97 L193.60,150.88 L193.86,150.79 L194.12,150.69 L194.38,150.60 L194.65,150.51 L194.91,150.42 L195.17,150.33 L195.43,150.24 L195.70,150.15 L195.96,150.06 L196.22,149.97 L196.48,149.88 L196.75,149.80 L197.01,149.71 L197.27,149.62 L197.53,149.54 L197.80,149.46 L198.06,149.37 L198.32,149.29 L198.58,149.21 L198.84,149.13 L199.11,149.05 L199.37,148.97 L199.63,148.89 L199.89,148.81 L200.16,148.73 L200.42,148.65 L200.68,148.58 L200.94,148.50 L201.21,148.43 L201.47,148.35 L201.73,148.28 L201.99,148.20 L202.26,148.13 L202.52,148.06 L202.78,147.99 L203.04,147.92 L203.31,147.85 L203.57,147.78 L203.83,147.71 L204.09,147.65 L204.36,147.58 L204.62,147.51 L204.88,147.45 L205.14,147.38 L205.41,147.32 L205.67,147.26 L205.93,147.19 L206.19,147.13 L206.46,147.07 L206.72,147.01 L206.98,146.95 L207.24,146.89 L207.50,146.84 L207.77,146.78 L208.03,146.72 L208.29,146.67 L208.55,146.61 L208.82,146.56 L209.08,146.51 L209.34,146.45 L209.60,146.40 L209.87,146.35 L210.13,146.30 L210.39,146.25 L210.65,146.20 L210.92,146.15 L211.18,146.11 L211.44,146.06 L211.70,146.01 L211.97,145.97 L212.23,145.92 L212.49,145.88 L212.75,145.84 L213.02,145.80 L213.28,145.76 L213.54,145.72 L213.80,145.68 L214.07,145.64 L214.33,145.60 L214.59,145.56 L214.85,145.53 L215.12,145.49 L215.38,145.46 L215.64,145.42 L215.90,145.39 L216.17,145.36 L216.43,145.33 L216.69,145.30 L216.95,145.27 L217.21,145.24 L217.48,145.21 L217.74,145.18 L218.00,145.15 L218.26,145.13 L218.53,145.10 L218.79,145.08 L219.05,145.06 L219.31,145.03 L219.58,145.01 L219.84,144.99 L220.10,144.97 L220.36,144.95 L220.63,144.93 L220.89,144.91 L221.15,144.90 L221.41,144.88 L221.68,144.87 L221.94,144.85 L222.20,144.84 L222.46,144.82 L222.73,144.81 L222.99,144.80 L223.25,144.79 L223.51,144.78 L223.78,144.77 L224.04,144.77 L224.30,144.76 L224.56,144.75 L224.83,144.75 L225.09,144.74 L225.35,144.74 L225.61,144.74 L225.88,144.73 L226.14,144.73 L226.40,144.73" fill="none" stroke="#e03c3c" stroke-width="1.05"/>
<path d="M37.45,144.73 L37.71,144.73 L37.97,144.73 L38.24,144.74 L38.50,144.74 L38.76,144.74 L39.02,144.75 L39.29,144.75 L39.55,144.76 L39.81,144.77 L40.07,144.77 L40.34,144.78 L40.60,144.79 L40.86,144.80 L41.12,144.81 L41.39,144.82 L41.65,144.84 L41.91,144.85 L42.17,144.87 L42.44,144.88 L42.70,144.90 L42.96,144.91 L43.22,144.93 L43.49,144.95 L43.75,144.97 L44.01,144.99 L44.27,145.01 L44.54,145.03 L44.80,145.06 L45.06,145.08 L45.32,145.10 L45.59,145.13 L45.85,145.15 L46.11,145.18 L46.37,145.21 L46.64,145.24 L46.90,145.27 L47.16,145.30 L47.42,145.33 L47.68,145.36 L47.95,145.39 L48.21,145.42 L48.47,145.46 L48.73,145.49 L49.00,145.53 L49.26,145.56 L49.52,145.60 L49.78,145.64 L50.05,145.68 L50.31,145.72 L50.57,145.76 L50.83,145.80 L51.10,145.84 L51.36,145.88 L51.62,145.92 L51.88,145.97 L52.15,146.01 L52.41,146.06 L52.67,146.11 L52.93,146.15 L53.20,146.20 L53.46,146.25 L53.72,146.30 L53.98,146.35 L54.25,146.40 L54.51,146.45 L54.77,146.51 L55.03,146.56 L55.30,146.61 L55.56,146.67 L55.82,146.72 L56.08,146.78 L56.34,146.84 L56.61,146.89 L56.87,146.95 L57.13,147.01 L57.39,147.07 L57.66,147.13 L57.92,147.19 L58.18,147.26 L58.44,147.32 L58.71,147.38 L58.97,147.45 L59.23,147.51 L59.49,147.58 L59.76,147.65 L60.02,147.71 L60.28,147.78 L60.54,147.85 L60.81,147.92 L61.07,147.99 L61.33,148.06 L61.59,148.13 L61.86,148.20 L62.12,148.28 L62.38,148.35 L62.64,148.43 L62.91,148.50 L63.17,148.58 L63.43,148.65 L63.69,148.73 L63.96,148.81 L64.22,148.89 L64.48,148.97 L64.74,149.05 L65.01,149.13 L65.27,149.21 L65.53,149.29 L65.79,149.37 L66.05,149.46 L66.32,149.54 L66.58,149.62 L66.84,149.71 L67.10,149.80 L67.37,149.88 L67.63,149.97 L67.89,150.06 L68.15,150.15 L68.42,150.24 L68.68,150.33 L68.94,150.42 L69.20,150.51 L69.47,150.60 L69.73,150.69 L69.99,150.79 L70.25,150.88 L70.52,150.97 L70.78,151.07 L71.04,151.17 L71.30,151.26 L71.57,151.36 L71.83,151.46 L72.09,151.56 L72.35,151.66 L72.62,151.76 L72.88,151.86 L73.14,151.96 L73.40,152.06 L73.67,152.16 L73.93,152.27 L74.19,152.37 L74.45,152.48 L74.72,152.58 L74.98,152.69 L75.24,152.79 L75.50,152.90 L75.76,153.01 L76.03,153.12 L76.29,153.23 L76.55,153.34 L76.81,153.45 L77.08,153.57 L77.34,153.68 L77.60,153.79 L77.86,153.91 L78.13,154.02 L78.39,154.14 L78.65,154.26 L78.91,154.38 L79.18,154.50 L79.44,154.62 L79.70,154.74 L79.96,154.86 L80.23,154.99 L80.49,155.11 L80.75,155.24 L81.01,155.37 L81.28,155.50 L81.54,155.63 L81.80,155.76 L82.06,155.90 L82.33,156.03 L82.59,156.17 L82.85,156.31 L83.11,156.46 L83.38,156.61 L83.64,156.76 L83.90,156.92 L84.16,157.09 L84.43,157.27 L84.69,157.50 L84.95,157.27 L85.21,157.09 L85.47,156.92 L85.74,156.76 L86.00,156.61 L86.26,156.46 L86.52,156.31 L86.79,156.17 L87.05,156.03 L87.31,155.90 L87.57,155.76 L87.84,155.63 L88.10,155.50 L88.36,155.37 L88.62,155.24 L88.89,155.11 L89.15,154.99 L89.41,154.86 L89.67,154.74 L89.94,154.62 L90.20,154.50 L90.46,154.38 L90.72,154.26 L90.99,154.14 L91.25,154.02 L91.51,153.91 L91.77,153.79 L92.04,153.68 L92.30,153.57 L92.56,153.45 L92.82,153.34 L93.09,153.23 L93.35,153.12 L93.61,153.01 L93.87,152.90 L94.13,152.79 L94.40,152.69 L94.66,152.58 L94.92,152.48 L95.18,152.37 L95.45,152.27 L95.71,152.16 L95.97,152.06 L96.23,151.96 L96.50,151.86 L96.76,151.76 L97.02,151.66 L97.28,151.56 L97.55,151.46 L97.81,151.36 L98.07,151.26 L98.33,151.17 L98.60,151.07 L98.86,150.97 L99.12,150.88 L99.38,150.79 L99.65,150.69 L99.91,150.60 L100.17,150.51 L100.43,150.42 L100.70,150.33 L100.96,150.24 L101.22,150.15 L101.48,150.06 L101.75,149.97 L102.01,149.88 L102.27,149.80 L102.53,149.71 L102.80,149.62 L103.06,149.54 L103.32,149.46 L103.58,149.37 L103.84,149.29 L104.11,149.21 L104.37,149.13 L104.63,149.05 L104.89,148.97 L105.16,148.89 L105.42,148.81 L105.68,148.73 L105.94,148.65 L106.21,148.58 L106.47,148.50 L106.73,148.43 L106.99,148.35 L107.26,148.28 L107.52,148.20 L107.78,148.13 L108.04,148.06 L108.31,147.99 L108.57,147.92 L108.83,147.85 L109.09,147.78 L109.36,147.71 L109.62,147.65 L109.88,147.58 L110.14,147.51 L110.41,147.45 L110.67,147.38 L110.93,147.32 L111.19,147.26 L111.46,147.19 L111.72,147.13 L111.98,147.07 L112.24,147.01 L112.51,146.95 L112.77,146.89 L113.03,146.84 L113.29,146.78 L113.55,146.72 L113.82,146.67 L114.08,146.61 L114.34,146.56 L114.60,146.51 L114.87,146.45 L115.13,146.40 L115.39,146.35 L115.65,146.30 L115.92,146.25 L116.18,146.20 L116.44,146.15 L116.70,146.11 L116.97,146.06 L117.23,146.01 L117.49,145.97 L117.75,145.92 L118.02,145.88 L118.28,145.84 L118.54,145.80 L118.80,145.76 L119.07,145.72 L119.33,145.68 L119.59,145.64 L119.85,145.60 L120.12,145.56 L120.38,145.53 L120.64,145.49 L120.90,145.46 L121.17,145.42 L121.43,145.39 L121.69,145.36 L121.95,145.33 L122.22,145.30 L122.48,145.27 L122.74,145.24 L123.00,145.21 L123.26,145.18 L123.53,145.15 L123.79,145.13 L124.05,145.10 L124.31,145.08 L124.58,145.06 L124.84,145.03 L125.10,145.01 L125.36,144.99 L125.63,144.97 L125.89,144.95 L126.15,144.93 L126.41,144.91 L126.68,144.90 L126.94,144.88 L127.20,144.87 L127.46,144.85 L127.73,144.84 L127.99,144.82 L128.25,144.81 L128.51,144.80 L128.78,144.79 L129.04,144.78 L129.30,144.77 L129.56,144.77 L129.83,144.76 L130.09,144.75 L130.35,144.75 L130.61,144.74 L130.88,144.74 L131.14,144.74 L131.40,144.73 L131.66,144.73 L131.93,144.73 L132.19,144.76 L132.45,144.80 L132.71,144.83 L132.97,144.86 L133.24,144.90 L133.50,144.94 L133.76,144.97 L134.02,145.01 L134.29,145.05 L134.55,145.09 L134.81,145.13 L135.07,145.17 L135.34,145.22 L135.60,145.26 L135.86,145.30 L136.12,145.35 L136.39,145.39 L136.65,145.44 L136.91,145.49 L137.17,145.54 L137.44,145.59 L137.70,145.64 L137.96,145.69 L138.22,145.74 L138.49,145.79 L138.75,145.84 L139.01,145.90 L139.27,145.95 L139.54,146.01 L139.80,146.06 L140.06,146.12 L140.32,146.17 L140.59,146.23 L140.85,146.29 L141.11,146.35 L141.37,146.41 L141.63,146.47 L141.90,146.53 L142.16,146.59 L142.42,146.65 L142.68,146.71 L142.95,146.78 L143.21,146.84 L143.47,146.90 L143.73,146.97 L144.00,147.03 L144.26,147.10 L144.52,147.16 L144.78,147.23 L145.05,147.30 L145.31,147.36 L145.57,147.43 L145.83,147.50 L146.10,147.57 L146.36,147.64 L146.62,147.71 L146.88,147.78 L147.15,147.85 L147.41,147.92 L147.67,147.99 L147.93,148.06 L148.20,148.13 L148.46,148.21 L148.72,148.28 L148.98,148.35 L149.25,148.42 L149.51,148.50 L149.77,148.57 L150.03,148.65 L150.30,148.72 L150.56,148.80 L150.82,148.87 L151.08,148.95 L151.34,149.02 L151.61,149.10 L151.87,149.17 L152.13,149.25 L152.39,149.33 L152.66,149.40 L152.92,149.48 L153.18,149.56 L153.44,149.63 L153.71,149.71 L153.97,149.79 L154.23,149.87 L154.49,149.95 L154.76,150.02 L155.02,150.10 L155.28,150.18 L155.54,150.26 L155.81,150.34 L156.07,150.42 L156.33,150.50 L156.59,150.58 L156.86,150.65 L157.12,150.73 L157.38,150.81 L157.64,150.89 L157.91,150.97 L158.17,151.05 L158.43,151.13 L158.69,151.21 L158.96,151.29 L159.22,151.37 L159.48,151.45 L159.74,151.53 L160.01,151.61 L160.27,151.70 L160.53,151.78 L160.79,151.86 L161.05,151.94 L161.32,152.02 L161.58,152.10 L161.84,152.18 L162.10,152.26 L162.37,152.34 L162.63,152.42 L162.89,152.50 L163.15,152.58 L163.42,152.66 L163.68,152.74 L163.94,152.83 L164.20,152.91 L164.47,152.99 L164.73,153.07 L164.99,153.15 L165.25,153.23 L165.52,153.31 L165.78,153.39 L166.04,153.47 L166.30,153.55 L166.57,153.64 L166.83,153.72 L167.09,153.80 L167.35,153.88 L167.62,153.96 L167.88,154.04 L168.14,154.12 L168.40,154.20 L168.67,154.28 L168.93,154.36 L169.19,154.44 L169.45,154.52 L169.71,154.61 L169.98,154.69 L170.24,154.77 L170.50,154.85 L170.76,154.93 L171.03,155.01 L171.29,155.09 L171.55,155.17 L171.81,155.25 L172.08,155.33 L172.34,155.41 L172.60,155.49 L172.86,155.57 L173.13,155.65 L173.39,155.73 L173.65,155.81 L173.91,155.89 L174.18,155.97 L174.44,156.06 L174.70,156.14 L174.96,156.22 L175.23,156.30 L175.49,156.38 L175.75,156.46 L176.01,156.54 L176.28,156.62 L176.54,156.70 L176.80,156.78 L177.06,156.86 L177.33,156.94 L177.59,157.02 L177.85,157.10 L178.11,157.18 L178.38,157.26 L178.64,157.34 L178.90,157.42 L179.16,157.50 L179.42,157.42 L179.69,157.34 L179.95,157.26 L180.21,157.18 L180.47,157.10 L180.74,157.02 L181.00,156.94 L181.26,156.86 L181.52,156.78 L181.79,156.70 L182.05,156.62 L182.31,156.54 L182.57,156.46 L182.84,156.38 L183.10,156.30 L183.36,156.22 L183.62,156.14 L183.89,156.06 L184.15,155.97 L184.41,155.89 L184.67,155.81 L184.94,155.73 L185.20,155.65 L185.46,155.57 L185.72,155.49 L185.99,155.41 L186.25,155.33 L186.51,155.25 L186.77,155.17 L187.04,155.09 L187.30,155.01 L187.56,154.93 L187.82,154.85 L188.09,154.77 L188.35,154.69 L188.61,154.61 L188.87,154.52 L189.13,154.44 L189.40,154.36 L189.66,154.28 L189.92,154.20 L190.18,154.12 L190.45,154.04 L190.71,153.96 L190.97,153.88 L191.23,153.80 L191.50,153.72 L191.76,153.64 L192.02,153.55 L192.28,153.47 L192.55,153.39 L192.81,153.31 L193.07,153.23 L193.33,153.15 L193.60,153.07 L193.86,152.99 L194.12,152.91 L194.38,152.83 L194.65,152.74 L194.91,152.66 L195.17,152.58 L195.43,152.50 L195.70,152.42 L195.96,152.34 L196.22,152.26 L196.48,152.18 L196.75,152.10 L197.01,152.02 L197.27,151.94 L197.53,151.86 L197.80,151.78 L198.06,151.70 L198.32,151.61 L198.58,151.53 L198.84,151.45 L199.11,151.37 L199.37,151.29 L199.63,151.21 L199.89,151.13 L200.16,151.05 L200.42,150.97 L200.68,150.89 L200.94,150.81 L201.21,150.73 L201.47,150.65 L201.73,150.58 L201.99,150.50 L202.26,150.42 L202.52,150.34 L202.78,150.26 L203.04,150.18 L203.31,150.10 L203.57,150.02 L203.83,149.95 L204.09,149.87 L204.36,149.79 L204.62,149.71 L204.88,149.63 L205.14,149.56 L205.41,149.48 L205.67,149.40 L205.93,149.33 L206.19,149.25 L206.46,149.17 L206.72,149.10 L206.98,149.02 L207.24,148.95 L207.50,148.87 L207.77,148.80 L208.03,148.72 L208.29,148.65 L208.55,148.57 L208.82,148.50 L209.08,148.42 L209.34,148.35 L209.60,148.28 L209.87,148.21 L210.13,148.13 L210.39,148.06 L210.65,147.99 L210.92,147.92 L211.18,147.85 L211.44,147.78 L211.70,147.71 L211.97,147.64 L212.23,147.57 L212.49,147.50 L212.75,147.43 L213.02,147.36 L213.28,147.30 L213.54,147.23 L213.80,147.16 L214.07,147.10 L214.33,147.03 L214.59,146.97 L214.85,146.90 L215.12,146.84 L215.38,146.78 L215.64,146.71 L215.90,146.65 L216.17,146.59 L216.43,146.53 L216.69,146.47 L216.95,146.41 L217.21,146.35 L217.48,146.29 L217.74,146.23 L218.00,146.17 L218.26,146.12 L218.53,146.06 L218.79,146.01 L219.05,145.95 L219.31,145.90 L219.58,145.84 L219.84,145.79 L220.10,145.74 L220.36,145.69 L220.63,145.64 L220.89,145.59 L221.15,145.54 L221.41,145.49 L221.68,145.44 L221.94,145.39 L222.20,145.35 L222.46,145.30 L222.73,145.26 L222.99,145.22 L223.25,145.17 L223.51,145.13 L223.78,145.09 L224.04,145.05 L224.30,145.01 L224.56,144.97 L224.83,144.94 L225.09,144.90 L225.35,144.86 L225.61,144.83 L225.88,144.80 L226.14,144.76 L226.40,144.73" fill="none" stroke="#3434c8" stroke-width="1.05"/>
<line x1="131.93" y1="11.8" x2="131.93" y2="157.50" stroke="#ac78e4" stroke-width="2" stroke-dasharray="4.2 2.25"/>
<line x1="179.16" y1="11.7" x2="179.16" y2="157.50" stroke="#2f6a35" stroke-width="1.6" stroke-dasharray="3.7 2.8"/>
<line x1="37.45" y1="106.83" x2="40.25" y2="106.83" stroke="#444" stroke-width="1"/>
<line x1="37.45" y1="56.17" x2="40.25" y2="56.17" stroke="#444" stroke-width="1"/>
<line x1="68.94" y1="157.50" x2="68.94" y2="154.30" stroke="#333" stroke-width="1.1"/>
<line x1="100.43" y1="157.50" x2="100.43" y2="154.30" stroke="#333" stroke-width="1.1"/>
<line x1="131.93" y1="157.50" x2="131.93" y2="154.30" stroke="#333" stroke-width="1.1"/>
<line x1="163.42" y1="157.50" x2="163.42" y2="154.30" stroke="#333" stroke-width="1.1"/>
<line x1="194.91" y1="157.50" x2="194.91" y2="154.30" stroke="#333" stroke-width="1.1"/>
<rect x="37.45" y="5.50" width="188.95" height="152.00" fill="none" stroke="#333" stroke-width="1.5"/>
<line x1="157.2" y1="12" x2="163.8" y2="12" stroke="#000" stroke-width="1.3"/>
<line x1="295.45" y1="35.4" x2="484.50" y2="35.4" stroke="#6c92ae" stroke-width="1.4"/>
<path d="M295.45,157.50 L295.71,157.50 L295.98,157.50 L296.24,157.50 L296.50,157.49 L296.76,157.49 L297.03,157.49 L297.29,157.48 L297.55,157.48 L297.81,157.47 L298.08,157.47 L298.34,157.46 L298.60,157.45 L298.86,157.44 L299.13,157.44 L299.39,157.43 L299.65,157.42 L299.91,157.41 L300.18,157.39 L300.44,157.38 L300.70,157.37 L300.96,157.36 L301.23,157.34 L301.49,157.33 L301.75,157.31 L302.01,157.30 L302.28,157.28 L302.54,157.27 L302.80,157.25 L303.06,157.23 L303.33,157.21 L303.59,157.19 L303.85,157.17 L304.11,157.15 L304.38,157.13 L304.64,157.11 L304.90,157.09 L305.17,157.07 L305.43,157.04 L305.69,157.02 L305.95,157.00 L306.22,156.97 L306.48,156.95 L306.74,156.92 L307.00,156.90 L307.27,156.87 L307.53,156.84 L307.79,156.82 L308.05,156.79 L308.32,156.76 L308.58,156.73 L308.84,156.70 L309.10,156.67 L309.37,156.64 L309.63,156.61 L309.89,156.58 L310.15,156.55 L310.42,156.52 L310.68,156.49 L310.94,156.46 L311.20,156.42 L311.47,156.39 L311.73,156.36 L311.99,156.32 L312.25,156.29 L312.52,156.26 L312.78,156.22 L313.04,156.19 L313.30,156.15 L313.57,156.12 L313.83,156.08 L314.09,156.05 L314.36,156.01 L314.62,155.98 L314.88,155.94 L315.14,155.90 L315.41,155.87 L315.67,155.83 L315.93,155.79 L316.19,155.76 L316.46,155.72 L316.72,155.68 L316.98,155.65 L317.24,155.61 L317.51,155.57 L317.77,155.53 L318.03,155.50 L318.29,155.46 L318.56,155.42 L318.82,155.38 L319.08,155.35 L319.34,155.31 L319.61,155.27 L319.87,155.23 L320.13,155.20 L320.39,155.16 L320.66,155.12 L320.92,155.08 L321.18,155.05 L321.44,155.01 L321.71,154.97 L321.97,154.94 L322.23,154.90 L322.49,154.86 L322.76,154.83 L323.02,154.79 L323.28,154.75 L323.54,154.72 L323.81,154.68 L324.07,154.65 L324.33,154.61 L324.60,154.57 L324.86,154.54 L325.12,154.51 L325.38,154.47 L325.65,154.44 L325.91,154.40 L326.17,154.37 L326.43,154.34 L326.70,154.30 L326.96,154.27 L327.22,154.24 L327.48,154.21 L327.75,154.17 L328.01,154.14 L328.27,154.11 L328.53,154.08 L328.80,154.05 L329.06,154.02 L329.32,153.99 L329.58,153.96 L329.85,153.93 L330.11,153.91 L330.37,153.88 L330.63,153.85 L330.90,153.82 L331.16,153.80 L331.42,153.77 L331.68,153.75 L331.95,153.72 L332.21,153.70 L332.47,153.67 L332.73,153.65 L333.00,153.63 L333.26,153.60 L333.52,153.58 L333.79,153.56 L334.05,153.54 L334.31,153.52 L334.57,153.50 L334.84,153.48 L335.10,153.46 L335.36,153.45 L335.62,153.43 L335.89,153.41 L336.15,153.40 L336.41,153.38 L336.67,153.36 L336.94,153.35 L337.20,153.34 L337.46,153.32 L337.72,153.31 L337.99,153.30 L338.25,153.29 L338.51,153.28 L338.77,153.27 L339.04,153.26 L339.30,153.25 L339.56,153.24 L339.82,153.23 L340.09,153.23 L340.35,153.22 L340.61,153.21 L340.87,153.21 L341.14,153.21 L341.40,153.20 L341.66,153.20 L341.92,153.20 L342.19,153.19 L342.45,153.19 L342.71,153.19 L342.98,153.19 L343.24,153.19 L343.50,153.20 L343.76,153.20 L344.03,153.20 L344.29,153.21 L344.55,153.21 L344.81,153.21 L345.08,153.22 L345.34,153.23 L345.60,153.23 L345.86,153.24 L346.13,153.25 L346.39,153.26 L346.65,153.27 L346.91,153.28 L347.18,153.29 L347.44,153.30 L347.70,153.31 L347.96,153.32 L348.23,153.34 L348.49,153.35 L348.75,153.36 L349.01,153.38 L349.28,153.40 L349.54,153.41 L349.80,153.43 L350.06,153.45 L350.33,153.46 L350.59,153.48 L350.85,153.50 L351.11,153.52 L351.38,153.54 L351.64,153.56 L351.90,153.58 L352.16,153.60 L352.43,153.63 L352.69,153.65 L352.95,153.67 L353.22,153.70 L353.48,153.72 L353.74,153.75 L354.00,153.77 L354.27,153.80 L354.53,153.82 L354.79,153.85 L355.05,153.88 L355.32,153.91 L355.58,153.93 L355.84,153.96 L356.10,153.99 L356.37,154.02 L356.63,154.05 L356.89,154.08 L357.15,154.11 L357.42,154.14 L357.68,154.17 L357.94,154.21 L358.20,154.24 L358.47,154.27 L358.73,154.30 L358.99,154.34 L359.25,154.37 L359.52,154.40 L359.78,154.44 L360.04,154.47 L360.30,154.51 L360.57,154.54 L360.83,154.57 L361.09,154.61 L361.35,154.65 L361.62,154.68 L361.88,154.72 L362.14,154.75 L362.41,154.79 L362.67,154.83 L362.93,154.86 L363.19,154.90 L363.46,154.94 L363.72,154.97 L363.98,155.01 L364.24,155.05 L364.51,155.08 L364.77,155.12 L365.03,155.16 L365.29,155.20 L365.56,155.23 L365.82,155.27 L366.08,155.31 L366.34,155.35 L366.61,155.38 L366.87,155.42 L367.13,155.46 L367.39,155.50 L367.66,155.53 L367.92,155.57 L368.18,155.61 L368.44,155.65 L368.71,155.68 L368.97,155.72 L369.23,155.76 L369.49,155.79 L369.76,155.83 L370.02,155.87 L370.28,155.90 L370.54,155.94 L370.81,155.98 L371.07,156.01 L371.33,156.05 L371.60,156.08 L371.86,156.12 L372.12,156.15 L372.38,156.19 L372.65,156.22 L372.91,156.26 L373.17,156.29 L373.43,156.32 L373.70,156.36 L373.96,156.39 L374.22,156.42 L374.48,156.46 L374.75,156.49 L375.01,156.52 L375.27,156.55 L375.53,156.58 L375.80,156.61 L376.06,156.64 L376.32,156.67 L376.58,156.70 L376.85,156.73 L377.11,156.76 L377.37,156.79 L377.63,156.82 L377.90,156.84 L378.16,156.87 L378.42,156.90 L378.68,156.92 L378.95,156.95 L379.21,156.97 L379.47,157.00 L379.73,157.02 L380.00,157.04 L380.26,157.07 L380.52,157.09 L380.79,157.11 L381.05,157.13 L381.31,157.15 L381.57,157.17 L381.84,157.19 L382.10,157.21 L382.36,157.23 L382.62,157.25 L382.89,157.27 L383.15,157.28 L383.41,157.30 L383.67,157.31 L383.94,157.33 L384.20,157.34 L384.46,157.36 L384.72,157.37 L384.99,157.38 L385.25,157.39 L385.51,157.41 L385.77,157.42 L386.04,157.43 L386.30,157.44 L386.56,157.44 L386.82,157.45 L387.09,157.46 L387.35,157.47 L387.61,157.47 L387.87,157.48 L388.14,157.48 L388.40,157.49 L388.66,157.49 L388.92,157.49 L389.19,157.50 L389.45,157.50 L389.71,157.50 L389.98,157.50 L390.24,157.50 L390.50,157.50 L390.76,157.50 L391.03,157.49 L391.29,157.49 L391.55,157.49 L391.81,157.48 L392.08,157.48 L392.34,157.47 L392.60,157.47 L392.86,157.46 L393.13,157.45 L393.39,157.44 L393.65,157.44 L393.91,157.43 L394.18,157.42 L394.44,157.41 L394.70,157.39 L394.96,157.38 L395.23,157.37 L395.49,157.36 L395.75,157.34 L396.01,157.33 L396.28,157.31 L396.54,157.30 L396.80,157.28 L397.06,157.27 L397.33,157.25 L397.59,157.23 L397.85,157.21 L398.11,157.19 L398.38,157.17 L398.64,157.15 L398.90,157.13 L399.16,157.11 L399.43,157.09 L399.69,157.07 L399.95,157.04 L400.22,157.02 L400.48,157.00 L400.74,156.97 L401.00,156.95 L401.27,156.92 L401.53,156.90 L401.79,156.87 L402.05,156.84 L402.32,156.82 L402.58,156.79 L402.84,156.76 L403.10,156.73 L403.37,156.70 L403.63,156.67 L403.89,156.64 L404.15,156.61 L404.42,156.58 L404.68,156.55 L404.94,156.52 L405.20,156.49 L405.47,156.46 L405.73,156.42 L405.99,156.39 L406.25,156.36 L406.52,156.32 L406.78,156.29 L407.04,156.26 L407.30,156.22 L407.57,156.19 L407.83,156.15 L408.09,156.12 L408.35,156.08 L408.62,156.05 L408.88,156.01 L409.14,155.98 L409.41,155.94 L409.67,155.90 L409.93,155.87 L410.19,155.83 L410.46,155.79 L410.72,155.76 L410.98,155.72 L411.24,155.68 L411.51,155.65 L411.77,155.61 L412.03,155.57 L412.29,155.53 L412.56,155.50 L412.82,155.46 L413.08,155.42 L413.34,155.38 L413.61,155.35 L413.87,155.31 L414.13,155.27 L414.39,155.23 L414.66,155.20 L414.92,155.16 L415.18,155.12 L415.44,155.08 L415.71,155.05 L415.97,155.01 L416.23,154.97 L416.49,154.94 L416.76,154.90 L417.02,154.86 L417.28,154.83 L417.54,154.79 L417.81,154.75 L418.07,154.72 L418.33,154.68 L418.60,154.65 L418.86,154.61 L419.12,154.57 L419.38,154.54 L419.65,154.51 L419.91,154.47 L420.17,154.44 L420.43,154.40 L420.70,154.37 L420.96,154.34 L421.22,154.30 L421.48,154.27 L421.75,154.24 L422.01,154.21 L422.27,154.17 L422.53,154.14 L422.80,154.11 L423.06,154.08 L423.32,154.05 L423.58,154.02 L423.85,153.99 L424.11,153.96 L424.37,153.93 L424.63,153.91 L424.90,153.88 L425.16,153.85 L425.42,153.82 L425.68,153.80 L425.95,153.77 L426.21,153.75 L426.47,153.72 L426.73,153.70 L427.00,153.67 L427.26,153.65 L427.52,153.63 L427.78,153.60 L428.05,153.58 L428.31,153.56 L428.57,153.54 L428.84,153.52 L429.10,153.50 L429.36,153.48 L429.62,153.46 L429.89,153.45 L430.15,153.43 L430.41,153.41 L430.67,153.40 L430.94,153.38 L431.20,153.36 L431.46,153.35 L431.72,153.34 L431.99,153.32 L432.25,153.31 L432.51,153.30 L432.77,153.29 L433.04,153.28 L433.30,153.27 L433.56,153.26 L433.82,153.25 L434.09,153.24 L434.35,153.23 L434.61,153.23 L434.87,153.22 L435.14,153.21 L435.40,153.21 L435.66,153.21 L435.92,153.20 L436.19,153.20 L436.45,153.20 L436.71,153.19 L436.97,153.19 L437.24,153.19 L437.50,153.19 L437.76,153.19 L438.03,153.20 L438.29,153.20 L438.55,153.20 L438.81,153.21 L439.08,153.21 L439.34,153.21 L439.60,153.22 L439.86,153.23 L440.13,153.23 L440.39,153.24 L440.65,153.25 L440.91,153.26 L441.18,153.27 L441.44,153.28 L441.70,153.29 L441.96,153.30 L442.23,153.31 L442.49,153.32 L442.75,153.34 L443.01,153.35 L443.28,153.36 L443.54,153.38 L443.80,153.40 L444.06,153.41 L444.33,153.43 L444.59,153.45 L444.85,153.46 L445.11,153.48 L445.38,153.50 L445.64,153.52 L445.90,153.54 L446.16,153.56 L446.43,153.58 L446.69,153.60 L446.95,153.63 L447.22,153.65 L447.48,153.67 L447.74,153.70 L448.00,153.72 L448.27,153.75 L448.53,153.77 L448.79,153.80 L449.05,153.82 L449.32,153.85 L449.58,153.88 L449.84,153.91 L450.10,153.93 L450.37,153.96 L450.63,153.99 L450.89,154.02 L451.15,154.05 L451.42,154.08 L451.68,154.11 L451.94,154.14 L452.20,154.17 L452.47,154.21 L452.73,154.24 L452.99,154.27 L453.25,154.30 L453.52,154.34 L453.78,154.37 L454.04,154.40 L454.30,154.44 L454.57,154.47 L454.83,154.51 L455.09,154.54 L455.35,154.57 L455.62,154.61 L455.88,154.65 L456.14,154.68 L456.41,154.72 L456.67,154.75 L456.93,154.79 L457.19,154.83 L457.46,154.86 L457.72,154.90 L457.98,154.94 L458.24,154.97 L458.51,155.01 L458.77,155.05 L459.03,155.08 L459.29,155.12 L459.56,155.16 L459.82,155.20 L460.08,155.23 L460.34,155.27 L460.61,155.31 L460.87,155.35 L461.13,155.38 L461.39,155.42 L461.66,155.46 L461.92,155.50 L462.18,155.53 L462.44,155.57 L462.71,155.61 L462.97,155.65 L463.23,155.68 L463.49,155.72 L463.76,155.76 L464.02,155.79 L464.28,155.83 L464.54,155.87 L464.81,155.90 L465.07,155.94 L465.33,155.98 L465.60,156.01 L465.86,156.05 L466.12,156.08 L466.38,156.12 L466.65,156.15 L466.91,156.19 L467.17,156.22 L467.43,156.26 L467.70,156.29 L467.96,156.32 L468.22,156.36 L468.48,156.39 L468.75,156.42 L469.01,156.46 L469.27,156.49 L469.53,156.52 L469.80,156.55 L470.06,156.58 L470.32,156.61 L470.58,156.64 L470.85,156.67 L471.11,156.70 L471.37,156.73 L471.63,156.76 L471.90,156.79 L472.16,156.82 L472.42,156.84 L472.68,156.87 L472.95,156.90 L473.21,156.92 L473.47,156.95 L473.73,156.97 L474.00,157.00 L474.26,157.02 L474.52,157.04 L474.78,157.07 L475.05,157.09 L475.31,157.11 L475.57,157.13 L475.84,157.15 L476.10,157.17 L476.36,157.19 L476.62,157.21 L476.89,157.23 L477.15,157.25 L477.41,157.27 L477.67,157.28 L477.94,157.30 L478.20,157.31 L478.46,157.33 L478.72,157.34 L478.99,157.36 L479.25,157.37 L479.51,157.38 L479.77,157.39 L480.04,157.41 L480.30,157.42 L480.56,157.43 L480.82,157.44 L481.09,157.44 L481.35,157.45 L481.61,157.46 L481.87,157.47 L482.14,157.47 L482.40,157.48 L482.66,157.48 L482.92,157.49 L483.19,157.49 L483.45,157.49 L483.71,157.50 L483.97,157.50 L484.24,157.50 L484.50,157.50" fill="none" stroke="#8cb356" stroke-width="1.2"/>
<line x1="390.1" y1="12" x2="390.1" y2="157.50" stroke="#a47ad8" stroke-width="1.7" stroke-dasharray="4.2 2.25"/>
<line x1="437.6" y1="11.7" x2="437.6" y2="157.50" stroke="#3f5244" stroke-width="1.4" stroke-dasharray="3.7 2.8"/>
<line x1="295.45" y1="132.17" x2="298.25" y2="132.17" stroke="#444" stroke-width="1"/>
<line x1="295.45" y1="106.83" x2="298.25" y2="106.83" stroke="#444" stroke-width="1"/>
<line x1="295.45" y1="81.50" x2="298.25" y2="81.50" stroke="#444" stroke-width="1"/>
<line x1="295.45" y1="56.17" x2="298.25" y2="56.17" stroke="#444" stroke-width="1"/>
<line x1="295.45" y1="30.83" x2="298.25" y2="30.83" stroke="#444" stroke-width="1"/>
<line x1="326.96" y1="157.50" x2="326.96" y2="154.30" stroke="#333" stroke-width="1.1"/>
<line x1="358.47" y1="157.50" x2="358.47" y2="154.30" stroke="#333" stroke-width="1.1"/>
<line x1="389.98" y1="157.50" x2="389.98" y2="154.30" stroke="#333" stroke-width="1.1"/>
<line x1="421.48" y1="157.50" x2="421.48" y2="154.30" stroke="#333" stroke-width="1.1"/>
<line x1="452.99" y1="157.50" x2="452.99" y2="154.30" stroke="#333" stroke-width="1.1"/>
<rect x="295.45" y="5.50" width="189.05" height="152.00" fill="none" stroke="#333" stroke-width="1.5"/>
<line x1="414.2" y1="12.4" x2="421.6" y2="12.4" stroke="#000" stroke-width="1.3"/>
<rect x="303" y="53" width="81" height="70" fill="#fff"/>
<line x1="303" y1="53.5" x2="384" y2="53.5" stroke="#444" stroke-width="1" stroke-dasharray="1 1"/>
<line x1="303" y1="122.5" x2="384" y2="122.5" stroke="#444" stroke-width="1" stroke-dasharray="1 1"/>
<line x1="303.5" y1="53" x2="303.5" y2="123" stroke="#444" stroke-width="1" stroke-dasharray="1 1"/>
<line x1="383.5" y1="53" x2="383.5" y2="123" stroke="#444" stroke-width="1" stroke-dasharray="1 1"/>
<line x1="316.7" y1="64.2" x2="316.7" y2="110.5" stroke="#999" stroke-width="0.9"/>
<line x1="316.7" y1="110.5" x2="375.6" y2="110.5" stroke="#111" stroke-width="1.1"/>
<path d="M316.74,105.69 L316.98,105.91 L317.22,106.13 L317.46,106.34 L317.70,106.55 L317.93,106.76 L318.17,106.96 L318.41,107.15 L318.65,107.34 L318.89,107.52 L319.12,107.70 L319.36,107.88 L319.60,108.04 L319.84,108.21 L320.08,108.37 L320.31,108.52 L320.55,108.67 L320.79,108.81 L321.03,108.94 L321.27,109.07 L321.51,109.20 L321.74,109.32 L321.98,109.43 L322.22,109.54 L322.46,109.65 L322.70,109.74 L322.93,109.83 L323.17,109.92 L323.41,110.00 L323.65,110.07 L323.89,110.14 L324.12,110.20 L324.36,110.26 L324.60,110.31 L324.84,110.35 L325.08,110.39 L325.31,110.43 L325.55,110.45 L325.79,110.47 L326.03,110.49 L326.27,110.50 L326.50,110.50 L326.74,110.50 L326.98,110.49 L327.22,110.47 L327.46,110.45 L327.69,110.42 L327.93,110.39 L328.17,110.35 L328.41,110.31 L328.65,110.26 L328.88,110.20 L329.12,110.14 L329.36,110.07 L329.60,110.00 L329.84,109.92 L330.07,109.83 L330.31,109.74 L330.55,109.64 L330.79,109.54 L331.03,109.43 L331.26,109.32 L331.50,109.20 L331.74,109.07 L331.98,108.94 L332.22,108.80 L332.45,108.66 L332.69,108.51 L332.93,108.36 L333.17,108.20 L333.41,108.04 L333.64,107.87 L333.88,107.70 L334.12,107.52 L334.36,107.33 L334.60,107.14 L334.84,106.95 L335.07,106.75 L335.31,106.55 L335.55,106.34 L335.79,106.12 L336.03,105.90 L336.26,105.68 L336.50,105.45 L336.74,105.22 L336.98,104.99 L337.22,104.74 L337.45,104.50 L337.69,104.25 L337.93,104.00 L338.17,103.74 L338.41,103.48 L338.64,103.21 L338.88,102.94 L339.12,102.67 L339.36,102.39 L339.60,102.11 L339.83,101.83 L340.07,101.54 L340.31,101.25 L340.55,100.96 L340.79,100.66 L341.02,100.36 L341.26,100.05 L341.50,99.75 L341.74,99.44 L341.98,99.13 L342.21,98.81 L342.45,98.49 L342.69,98.17 L342.93,97.85 L343.17,97.53 L343.40,97.20 L343.64,96.87 L343.88,96.54 L344.12,96.21 L344.36,95.88 L344.59,95.54 L344.83,95.20 L345.07,94.86 L345.31,94.52 L345.55,94.18 L345.78,93.84 L346.02,93.49 L346.26,93.15 L346.50,92.80 L346.74,92.45 L346.97,92.10 L347.21,91.76 L347.45,91.41 L347.69,91.06 L347.93,90.71 L348.17,90.36 L348.40,90.01 L348.64,89.66 L348.88,89.31 L349.12,88.96 L349.36,88.61 L349.59,88.26 L349.83,87.91 L350.07,87.56 L350.31,87.21 L350.55,86.87 L350.78,86.52 L351.02,86.17 L351.26,85.83 L351.50,85.49 L351.74,85.15 L351.97,84.81 L352.21,84.47 L352.45,84.13 L352.69,83.80 L352.93,83.46 L353.16,83.13 L353.40,82.80 L353.64,82.47 L353.88,82.15 L354.12,81.83 L354.35,81.51 L354.59,81.19 L354.83,80.87 L355.07,80.56 L355.31,80.25 L355.54,79.94 L355.78,79.64 L356.02,79.33 L356.26,79.04 L356.50,78.74 L356.73,78.45 L356.97,78.16 L357.21,77.87 L357.45,77.59 L357.69,77.31 L357.92,77.04 L358.16,76.77 L358.40,76.50 L358.64,76.24 L358.88,75.98 L359.11,75.72 L359.35,75.47 L359.59,75.23 L359.83,74.98 L360.07,74.75 L360.30,74.51 L360.54,74.28 L360.78,74.06 L361.02,73.84 L361.26,73.62 L361.50,73.41 L361.73,73.20 L361.97,73.00 L362.21,72.81 L362.45,72.62 L362.69,72.43 L362.92,72.25 L363.16,72.07 L363.40,71.90 L363.64,71.74 L363.88,71.58 L364.11,71.42 L364.35,71.27 L364.59,71.13 L364.83,70.99 L365.07,70.86 L365.30,70.73 L365.54,70.61 L365.78,70.49 L366.02,70.38 L366.26,70.27 L366.49,70.17 L366.73,70.08 L366.97,69.99 L367.21,69.91 L367.45,69.83 L367.68,69.76 L367.92,69.70 L368.16,69.64 L368.40,69.59 L368.64,69.54 L368.87,69.50 L369.11,69.46 L369.35,69.43 L369.59,69.41 L369.83,69.39 L370.06,69.38 L370.30,69.38 L370.54,69.38 L370.78,69.38 L371.02,69.40 L371.25,69.41 L371.49,69.44 L371.73,69.47 L371.97,69.50 L372.21,69.55 L372.44,69.59 L372.68,69.65 L372.92,69.71 L373.16,69.77 L373.40,69.85 L373.63,69.92 L373.87,70.01 L374.11,70.10 L374.35,70.19 L374.59,70.29 L374.83,70.40 L375.06,70.51 L375.30,70.63 L375.54,70.75 L375.78,70.88 L376.02,71.01 L376.25,71.15" fill="none" stroke="#86a552" stroke-width="1"/>
<line x1="326.5" y1="60.5" x2="326.5" y2="110.5" stroke="#8a3ee8" stroke-width="1.3" stroke-dasharray="4 2.4"/>
<line x1="370.4" y1="60.5" x2="370.4" y2="110.5" stroke="#3d5e44" stroke-width="1.2" stroke-dasharray="4 2.4"/>
<line x1="336.26" y1="110.5" x2="336.26" y2="108.6" stroke="#333" stroke-width="0.8"/>
<line x1="346.01" y1="110.5" x2="346.01" y2="108.6" stroke="#333" stroke-width="0.8"/>
<line x1="355.77" y1="110.5" x2="355.77" y2="108.6" stroke="#333" stroke-width="0.8"/>
<line x1="365.52" y1="110.5" x2="365.52" y2="108.6" stroke="#333" stroke-width="0.8"/>
<line x1="375.28" y1="110.5" x2="375.28" y2="108.6" stroke="#333" stroke-width="0.8"/>
<line x1="316.7" y1="98.75" x2="318.8" y2="98.75" stroke="#333" stroke-width="0.7"/>
<line x1="316.7" y1="87.00" x2="318.8" y2="87.00" stroke="#333" stroke-width="0.7"/>
<line x1="316.7" y1="75.25" x2="318.8" y2="75.25" stroke="#333" stroke-width="0.7"/>
<line x1="316.7" y1="63.50" x2="318.8" y2="63.50" stroke="#333" stroke-width="0.7"/>
<line x1="359.2" y1="58.2" x2="362" y2="58.2" stroke="#000" stroke-width="0.8"/>
<line x1="383" y1="150.5" x2="445" y2="150.5" stroke="#444" stroke-width="1" stroke-dasharray="1 1"/>
<line x1="383" y1="158.5" x2="445" y2="158.5" stroke="#444" stroke-width="1" stroke-dasharray="1 1"/>
<line x1="383.5" y1="150" x2="383.5" y2="159" stroke="#444" stroke-width="1" stroke-dasharray="1 1"/>
<line x1="444.5" y1="150" x2="444.5" y2="159" stroke="#444" stroke-width="1" stroke-dasharray="1 1"/>
<line x1="387.5" y1="153" x2="372.6" y2="129.3" stroke="#222" stroke-width="1"/>
<path d="M371.3,127.2 L375.2,130.5 L371.9,132.1 Z" fill="#222"/>
<line x1="12.5" y1="198.1" x2="65.5" y2="198.1" stroke="#111" stroke-width="2.4"/>
<line x1="178.9" y1="198.1" x2="231.7" y2="198.1" stroke="#1a1ad0" stroke-width="2.4"/>
<line x1="344.8" y1="198.1" x2="398.2" y2="198.1" stroke="#1d4f7c" stroke-width="2.4"/>
<line x1="12.5" y1="226.7" x2="65.5" y2="226.7" stroke="#f0963c" stroke-width="2.4"/>
<line x1="178.9" y1="226.7" x2="231.7" y2="226.7" stroke="#d8303a" stroke-width="2.4"/>
<line x1="344.8" y1="226.7" x2="398.2" y2="226.7" stroke="#7db33a" stroke-width="2.4"/>
<line x1="83.4" y1="219.5" x2="88.6" y2="219.5" stroke="#000" stroke-width="1.1"/>
<line x1="420.2" y1="220" x2="424.7" y2="220" stroke="#000" stroke-width="1.1"/>
<polygon points="97.20,242.90 225.40,242.30 161.80,352.40 34.50,353.60" fill="#4472c4"/>
<polygon points="34.50,353.60 161.80,352.40 161.40,406.30 34.50,407.20" fill="#fff"/>
<polygon points="161.80,352.40 225.40,242.30 225.30,297.00 161.40,406.30" fill="#ff0000"/>
<line x1="97.20" y1="242.90" x2="97.30" y2="297.60" stroke="#111" stroke-width="1.30" stroke-dasharray="3.4 2"/>
<line x1="97.30" y1="297.60" x2="225.30" y2="297.00" stroke="#111" stroke-width="1.30" stroke-dasharray="3.8 2.2"/>
<line x1="97.30" y1="297.60" x2="65.56" y2="353.00" stroke="#111" stroke-width="1.20" stroke-dasharray="3.4 2"/>
<line x1="65.56" y1="353.00" x2="34.50" y2="407.20" stroke="#111" stroke-width="1.00"/>
<line x1="97.20" y1="242.90" x2="225.40" y2="242.30" stroke="#111" stroke-width="1.40"/>
<line x1="225.40" y1="242.30" x2="161.80" y2="352.40" stroke="#111" stroke-width="1.40"/>
<line x1="161.80" y1="352.40" x2="34.50" y2="353.60" stroke="#111" stroke-width="1.40"/>
<line x1="34.50" y1="353.60" x2="97.20" y2="242.90" stroke="#111" stroke-width="1.40"/>
<line x1="34.50" y1="353.60" x2="34.50" y2="407.20" stroke="#111" stroke-width="1.40"/>
<line x1="34.50" y1="407.20" x2="161.40" y2="406.30" stroke="#111" stroke-width="1.40"/>
<line x1="161.40" y1="406.30" x2="161.80" y2="352.40" stroke="#111" stroke-width="1.40"/>
<line x1="225.40" y1="242.30" x2="225.30" y2="297.00" stroke="#111" stroke-width="1.40"/>
<line x1="225.30" y1="297.00" x2="161.40" y2="406.30" stroke="#111" stroke-width="1.40"/>
<line x1="114.1" y1="322.4" x2="147.4" y2="265.9" stroke="#111" stroke-width="1.1"/>
<path d="M148.6,263.8 C147.2,265.0 145.6,266.2 145.5,267.6 C146.3,268.4 147.6,268.6 148.4,268.0 C148.7,266.6 148.7,265.2 148.6,263.8 Z" fill="#111"/>
<rect x="155.90" y="264.90" width="25.90" height="12.90" fill="#fff"/>
<rect x="134.05" y="331.70" width="26.50" height="12.60" fill="#fff"/>
<g transform="translate(194.8,321.6) rotate(-60)"><rect x="-13.2" y="-6" width="26.4" height="12" fill="#fff"/><line x1="-1.4" y1="-7.3" x2="3.8" y2="-7.3" stroke="#000" stroke-width="1.2"/></g>
<polygon points="358.80,242.20 486.50,241.70 423.10,351.40 295.70,352.20" fill="#4472c4"/>
<polygon points="295.70,352.20 423.10,351.40 423.20,405.60 295.80,406.20" fill="#ff0000"/>
<polygon points="423.10,351.40 486.50,241.70 486.40,295.80 423.20,405.60" fill="#fff"/>
<line x1="358.80" y1="242.20" x2="358.60" y2="296.60" stroke="#111" stroke-width="1.30" stroke-dasharray="3.4 2"/>
<line x1="358.60" y1="296.60" x2="486.40" y2="295.80" stroke="#111" stroke-width="1.30" stroke-dasharray="3.8 2.2"/>
<line x1="358.60" y1="296.60" x2="295.80" y2="406.20" stroke="#111" stroke-width="1.20" stroke-dasharray="3.4 2"/>
<line x1="358.80" y1="242.20" x2="486.50" y2="241.70" stroke="#111" stroke-width="1.40"/>
<line x1="486.50" y1="241.70" x2="423.10" y2="351.40" stroke="#111" stroke-width="1.40"/>
<line x1="423.10" y1="351.40" x2="295.70" y2="352.20" stroke="#111" stroke-width="1.40"/>
<line x1="295.70" y1="352.20" x2="358.80" y2="242.20" stroke="#111" stroke-width="1.40"/>
<line x1="295.70" y1="352.20" x2="295.80" y2="406.20" stroke="#111" stroke-width="1.40"/>
<line x1="295.80" y1="406.20" x2="423.20" y2="405.60" stroke="#111" stroke-width="1.40"/>
<line x1="423.20" y1="405.60" x2="423.10" y2="351.40" stroke="#111" stroke-width="1.40"/>
<line x1="486.50" y1="241.70" x2="486.40" y2="295.80" stroke="#111" stroke-width="1.40"/>
<line x1="486.40" y1="295.80" x2="423.20" y2="405.60" stroke="#111" stroke-width="1.40"/>
<line x1="376.3" y1="322.4" x2="409.0" y2="265.9" stroke="#111" stroke-width="1.1"/>
<path d="M410.2,263.8 C408.8,265.0 407.2,266.2 407.1,267.6 C407.9,268.4 409.2,268.6 410.0,268.0 C410.3,266.6 410.3,265.2 410.2,263.8 Z" fill="#111"/>
<rect x="414.90" y="264.60" width="26.20" height="12.60" fill="#fff"/>
<line x1="425.00" y1="263.20" x2="430.00" y2="263.20" stroke="#000" stroke-width="1.4"/>
<rect x="388.50" y="332.90" width="26.30" height="13.60" fill="#fff"/>
<rect x="346.90" y="372.90" width="26.10" height="12.80" fill="#fff"/>
<line x1="356.30" y1="372.30" x2="361.00" y2="372.30" stroke="#000" stroke-width="1.4"/>
<g style="filter:grayscale(1)"><text x="34.4" y="162.60" text-anchor="end" class="tk">0</text>
<text x="34.4" y="111.93" text-anchor="end" class="tk">0.1</text>
<text x="34.4" y="61.27" text-anchor="end" class="tk">0.2</text>
<text x="34.4" y="10.00" text-anchor="end" class="tk">0.3</text>
<text x="37.40" y="171.2" text-anchor="middle" class="tk">0</text>
<text x="69.28" y="171.2" text-anchor="middle" class="tk">60</text>
<text x="101.16" y="171.2" text-anchor="middle" class="tk">120</text>
<text x="133.03" y="171.2" text-anchor="middle" class="tk">180</text>
<text x="164.91" y="171.2" text-anchor="middle" class="tk">240</text>
<text x="196.79" y="171.2" text-anchor="middle" class="tk">300</text>
<text x="228.67" y="171.2" text-anchor="middle" class="tk">360</text>
<text x="41.9" y="17.5" class="pl" font-size="14">(a)</text>
<text x="94.6" y="24.5" class="pl">[001]</text>
<text x="146.8" y="24.8" class="pl" font-size="12.9">[110]</text>
<text x="192.9" y="20.3" class="pl">(110)</text>
<text transform="translate(9.0,81) rotate(-90)" text-anchor="middle" class="ax" font-style="italic">P</text>
<text x="112.4" y="184.9" class="ax"><tspan font-style="italic">θ</tspan> (Deg)</text>
<text x="291.4" y="162.30" text-anchor="end" class="tk">0</text>
<text x="291.4" y="136.97" text-anchor="end" class="tk">0.2</text>
<text x="291.4" y="111.63" text-anchor="end" class="tk">0.4</text>
<text x="291.4" y="86.30" text-anchor="end" class="tk">0.6</text>
<text x="291.4" y="60.97" text-anchor="end" class="tk">0.8</text>
<text x="291.4" y="35.63" text-anchor="end" class="tk">1.0</text>
<text x="291.4" y="9.50" text-anchor="end" class="tk">1.2</text>
<text x="295.40" y="171.2" text-anchor="middle" class="tk">0</text>
<text x="327.28" y="171.2" text-anchor="middle" class="tk">60</text>
<text x="359.16" y="171.2" text-anchor="middle" class="tk">120</text>
<text x="391.03" y="171.2" text-anchor="middle" class="tk">180</text>
<text x="422.91" y="171.2" text-anchor="middle" class="tk">240</text>
<text x="454.79" y="171.2" text-anchor="middle" class="tk">300</text>
<text x="486.67" y="171.2" text-anchor="middle" class="tk">360</text>
<text x="299" y="17.8" class="pl" font-size="14">(b)</text>
<text x="353.8" y="24.6" class="pl">[001]</text>
<text x="403.6" y="24.8" class="pl" font-size="12.9">[110]</text>
<text x="451" y="20.4" class="pl">(110)</text>
<text transform="translate(264.3,80.3) rotate(-90)" text-anchor="middle" class="ax">Q</text>
<text x="370.4" y="185.6" class="ax"><tspan font-style="italic">θ</tspan> (Deg)</text>
<text x="316" y="112.20" text-anchor="end" class="it">0</text>
<text x="316" y="100.45" text-anchor="end" class="it">0.01</text>
<text x="316" y="88.70" text-anchor="end" class="it">0.02</text>
<text x="316" y="76.95" text-anchor="end" class="it">0.03</text>
<text x="316" y="65.20" text-anchor="end" class="it">0.04</text>
<text x="312" y="117.6" class="it" textLength="69" lengthAdjust="spacingAndGlyphs">160180200220240260280</text>
<text x="328.4" y="66" class="it">[001]</text>
<text x="355" y="66" class="it">[110]</text>
<text x="76.8" y="201.2" class="lg">(110)/[001] Slip system</text>
<text x="241.2" y="201.2" class="lg">(001)/[100] Slip system</text>
<text x="412.2" y="201.2" class="lg">(110) Cleavage plane</text>
<text x="76.6" y="229.2" class="lg">(110)/[001] Slip system</text>
<text x="242.8" y="229.2" class="lg">(001)/[010] Slip system</text>
<text x="412.6" y="229.2" class="lg">(110) Cleavage plane</text>
<text x="168.85" y="274.75" text-anchor="middle" class="bx">[001]</text>
<text x="147.30" y="341.40" text-anchor="middle" class="bx">[110]</text>
<text transform="translate(194.8,321.6) rotate(-60)" x="0" y="3.8" text-anchor="middle" class="bx" font-size="10.6">[110]</text>
<text x="41.4" y="254.9" class="pl" font-size="14">(c)</text>
<text x="428.00" y="274.30" text-anchor="middle" class="bx">[110]</text>
<text x="401.65" y="343.10" text-anchor="middle" class="bx">(110)</text>
<text x="359.95" y="382.70" text-anchor="middle" class="bx">(110)</text>
<text x="298.8" y="255.1" class="pl" font-size="14">(d)</text></g><g fill="#fff"><rect x="27.06" y="110.00" width="2.80" height="3.00"/><rect x="31.91" y="110.00" width="2.62" height="3.00"/><rect x="89.99" y="169.00" width="2.80" height="3.00"/><rect x="94.84" y="169.00" width="2.62" height="3.00"/><rect x="121.86" y="169.00" width="2.80" height="3.00"/><rect x="126.71" y="169.00" width="2.62" height="3.00"/><rect x="114.29" y="23.00" width="2.70" height="3.00"/><rect x="118.99" y="23.00" width="2.53" height="3.00"/><rect x="151.60" y="23.00" width="2.70" height="3.00"/><rect x="156.30" y="23.00" width="2.53" height="3.00"/><rect x="158.30" y="23.00" width="2.70" height="3.00"/><rect x="163.00" y="23.00" width="2.53" height="3.00"/><rect x="197.70" y="18.00" width="2.70" height="3.00"/><rect x="202.40" y="18.00" width="2.53" height="3.00"/><rect x="204.40" y="18.00" width="2.70" height="3.00"/><rect x="209.10" y="18.00" width="2.53" height="3.00"/><rect x="272.56" y="34.00" width="2.80" height="3.00"/><rect x="277.41" y="34.00" width="2.62" height="3.00"/><rect x="272.56" y="8.00" width="2.80" height="3.00"/><rect x="277.41" y="8.00" width="2.62" height="3.00"/><rect x="347.99" y="169.00" width="2.80" height="3.00"/><rect x="352.84" y="169.00" width="2.62" height="3.00"/><rect x="379.86" y="169.00" width="2.80" height="3.00"/><rect x="384.71" y="169.00" width="2.62" height="3.00"/><rect x="373.49" y="23.00" width="2.70" height="3.00"/><rect x="378.19" y="23.00" width="2.53" height="3.00"/><rect x="408.40" y="23.00" width="2.70" height="3.00"/><rect x="413.10" y="23.00" width="2.53" height="3.00"/><rect x="415.10" y="23.00" width="2.70" height="3.00"/><rect x="419.80" y="23.00" width="2.53" height="3.00"/><rect x="455.80" y="18.00" width="2.70" height="3.00"/><rect x="460.50" y="18.00" width="2.53" height="3.00"/><rect x="462.50" y="18.00" width="2.70" height="3.00"/><rect x="467.20" y="18.00" width="2.53" height="3.00"/><rect x="79.85" y="199.00" width="1.95" height="3.00"/><rect x="83.20" y="199.00" width="1.84" height="3.00"/><rect x="84.37" y="199.00" width="1.95" height="3.00"/><rect x="87.72" y="199.00" width="1.84" height="3.00"/><rect x="112.88" y="199.00" width="1.95" height="3.00"/><rect x="116.23" y="199.00" width="1.84" height="3.00"/><rect x="254.27" y="199.00" width="1.95" height="3.00"/><rect x="257.62" y="199.00" width="1.84" height="3.00"/><rect x="267.77" y="199.00" width="1.95" height="3.00"/><rect x="271.12" y="199.00" width="1.84" height="3.00"/><rect x="415.25" y="199.00" width="1.95" height="3.00"/><rect x="418.60" y="199.00" width="1.84" height="3.00"/><rect x="419.77" y="199.00" width="1.95" height="3.00"/><rect x="423.12" y="199.00" width="1.84" height="3.00"/><rect x="79.65" y="227.00" width="1.95" height="3.00"/><rect x="83.00" y="227.00" width="1.84" height="3.00"/><rect x="84.17" y="227.00" width="1.95" height="3.00"/><rect x="87.52" y="227.00" width="1.84" height="3.00"/><rect x="112.68" y="227.00" width="1.95" height="3.00"/><rect x="116.03" y="227.00" width="1.84" height="3.00"/><rect x="255.87" y="227.00" width="1.95" height="3.00"/><rect x="259.22" y="227.00" width="1.84" height="3.00"/><rect x="274.37" y="227.00" width="1.95" height="3.00"/><rect x="277.72" y="227.00" width="1.84" height="3.00"/><rect x="415.65" y="227.00" width="1.95" height="3.00"/><rect x="419.00" y="227.00" width="1.84" height="3.00"/><rect x="420.17" y="227.00" width="1.95" height="3.00"/><rect x="423.52" y="227.00" width="1.84" height="3.00"/><rect x="171.75" y="273.00" width="2.12" height="3.00"/><rect x="175.41" y="273.00" width="2.00" height="3.00"/><rect x="139.36" y="339.00" width="2.12" height="3.00"/><rect x="143.02" y="339.00" width="2.00" height="3.00"/><rect x="144.36" y="339.00" width="2.12" height="3.00"/><rect x="148.02" y="339.00" width="2.00" height="3.00"/><g transform="translate(194.8,321.6) rotate(-60)"><rect x="-7.94" y="2.58" width="2.12" height="1.42"/><rect x="-4.28" y="2.58" width="2.00" height="1.42"/></g><g transform="translate(194.8,321.6) rotate(-60)"><rect x="-2.94" y="2.58" width="2.12" height="1.42"/><rect x="0.72" y="2.58" width="2.00" height="1.42"/></g><rect x="420.06" y="272.00" width="2.12" height="3.00"/><rect x="423.72" y="272.00" width="2.00" height="3.00"/><rect x="425.06" y="272.00" width="2.12" height="3.00"/><rect x="428.72" y="272.00" width="2.00" height="3.00"/><rect x="393.71" y="341.00" width="2.12" height="3.00"/><rect x="397.37" y="341.00" width="2.00" height="3.00"/><rect x="398.71" y="341.00" width="2.12" height="3.00"/><rect x="402.37" y="341.00" width="2.00" height="3.00"/><rect x="352.01" y="381.00" width="2.12" height="3.00"/><rect x="355.67" y="381.00" width="2.00" height="3.00"/><rect x="357.01" y="381.00" width="2.12" height="3.00"/><rect x="360.67" y="381.00" width="2.00" height="3.00"/></g></svg></body></html>
